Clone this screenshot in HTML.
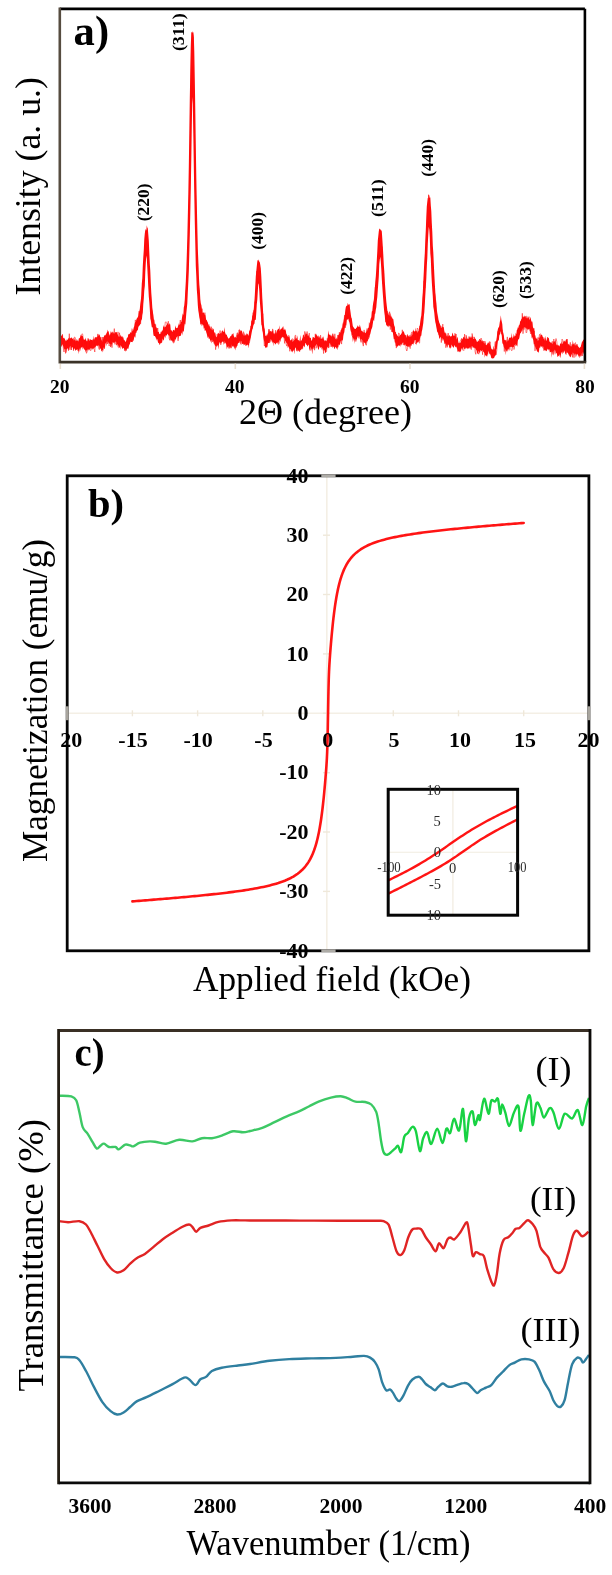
<!DOCTYPE html>
<html><head><meta charset="utf-8"><style>
html,body{margin:0;padding:0;background:#fff;}
body{width:612px;height:1575px;overflow:hidden;font-family:"Liberation Serif",serif;}
svg{display:block;filter:blur(0.5px);}
</style></head><body>
<svg width="612" height="1575" viewBox="0 0 612 1575" font-family="'Liberation Serif', serif">
<rect width="612" height="1575" fill="#fff"/>
<path d="M60.3 336.2 L60.8 336.4 L61.3 335.3 L61.8 335.9 L62.3 333.7 L62.8 336.2 L63.3 338.2 L63.8 338.1 L64.3 339.0 L64.8 337.4 L65.3 341.6 L65.8 339.8 L66.3 341.2 L66.8 339.2 L67.3 340.1 L67.8 339.4 L68.3 338.2 L68.8 338.2 L69.3 338.8 L69.8 336.9 L70.3 338.2 L70.8 338.2 L71.3 337.5 L71.8 337.4 L72.3 338.8 L72.8 338.7 L73.3 337.4 L73.8 340.5 L74.3 340.1 L74.8 338.3 L75.3 341.4 L75.8 340.3 L76.3 341.0 L76.8 338.7 L77.3 340.1 L77.8 341.1 L78.3 341.5 L78.8 338.4 L79.3 338.3 L79.8 338.0 L80.3 336.4 L80.8 334.5 L81.3 336.3 L81.8 335.5 L82.3 336.2 L82.8 335.6 L83.3 338.3 L83.8 339.8 L84.3 339.2 L84.8 340.1 L85.3 339.2 L85.8 337.5 L86.3 341.6 L86.8 340.3 L87.3 341.4 L87.8 340.1 L88.3 338.2 L88.8 339.8 L89.3 340.9 L89.8 338.8 L90.3 340.0 L90.8 339.1 L91.3 340.0 L91.8 339.9 L92.3 340.5 L92.8 339.6 L93.3 340.2 L93.8 335.6 L94.3 339.9 L94.8 337.4 L95.3 336.9 L95.8 337.4 L96.3 337.4 L96.8 337.1 L97.3 337.1 L97.8 335.4 L98.3 334.1 L98.8 336.1 L99.3 335.3 L99.8 334.1 L100.3 337.5 L100.8 337.5 L101.3 340.2 L101.8 340.7 L102.3 338.3 L102.8 341.9 L103.3 337.0 L103.8 336.9 L104.3 335.3 L104.8 335.4 L105.3 335.7 L105.8 334.7 L106.3 334.3 L106.8 332.5 L107.3 331.7 L107.8 329.4 L108.3 332.0 L108.8 332.9 L109.3 334.3 L109.8 335.8 L110.3 333.8 L110.8 330.9 L111.3 333.2 L111.8 331.7 L112.3 331.5 L112.8 333.4 L113.3 333.6 L113.8 332.2 L114.3 332.9 L114.8 334.0 L115.3 332.0 L115.8 332.2 L116.3 332.2 L116.8 332.0 L117.3 334.4 L117.8 334.5 L118.3 336.5 L118.8 336.5 L119.3 336.3 L119.8 336.9 L120.3 336.0 L120.8 334.5 L121.3 336.5 L121.8 336.8 L122.3 337.0 L122.8 337.8 L123.3 338.7 L123.8 340.0 L124.3 339.9 L124.8 340.7 L125.3 341.6 L125.8 342.0 L126.3 340.2 L126.8 338.2 L127.3 336.9 L127.8 338.3 L128.3 334.1 L128.8 335.1 L129.3 334.1 L129.8 333.7 L130.3 332.4 L130.8 332.5 L131.3 333.3 L131.8 328.2 L132.3 328.7 L132.8 331.5 L133.3 329.5 L133.8 327.3 L134.3 326.2 L134.8 323.5 L135.3 321.8 L135.8 322.2 L136.3 319.7 L136.8 318.5 L137.3 317.9 L137.8 317.0 L138.3 316.0 L138.8 312.8 L139.3 311.3 L139.8 308.9 L140.3 303.8 L140.8 300.2 L141.3 295.2 L141.8 283.4 L142.3 278.3 L142.8 265.7 L143.3 257.0 L143.8 249.9 L144.3 239.1 L144.8 233.4 L145.3 230.3 L145.8 228.9 L146.3 230.5 L146.8 225.2 L147.3 227.5 L147.8 228.5 L148.3 234.6 L148.8 240.9 L149.3 252.7 L149.8 263.7 L150.3 271.1 L150.8 283.5 L151.3 292.9 L151.8 299.6 L152.3 307.4 L152.8 311.3 L153.3 315.1 L153.8 319.6 L154.3 319.8 L154.8 324.1 L155.3 323.6 L155.8 326.6 L156.3 327.3 L156.8 328.5 L157.3 328.1 L157.8 331.8 L158.3 332.1 L158.8 331.7 L159.3 334.2 L159.8 333.8 L160.3 334.1 L160.8 331.6 L161.3 332.6 L161.8 330.7 L162.3 330.8 L162.8 330.0 L163.3 325.0 L163.8 326.8 L164.3 327.8 L164.8 326.2 L165.3 327.1 L165.8 326.4 L166.3 325.3 L166.8 325.1 L167.3 322.6 L167.8 324.1 L168.3 324.2 L168.8 325.1 L169.3 324.3 L169.8 323.0 L170.3 325.0 L170.8 330.2 L171.3 330.2 L171.8 330.5 L172.3 332.2 L172.8 330.6 L173.3 330.1 L173.8 329.8 L174.3 330.8 L174.8 329.8 L175.3 325.3 L175.8 327.5 L176.3 327.9 L176.8 328.2 L177.3 327.7 L177.8 327.5 L178.3 323.0 L178.8 326.0 L179.3 324.6 L179.8 324.5 L180.3 323.9 L180.8 322.0 L181.3 322.0 L181.8 318.9 L182.3 315.7 L182.8 313.3 L183.3 315.2 L183.8 307.5 L184.3 305.3 L184.8 299.5 L185.3 289.9 L185.8 281.5 L186.3 269.8 L186.8 254.8 L187.3 237.9 L187.8 216.5 L188.3 194.2 L188.8 167.0 L189.3 133.2 L189.8 97.9 L190.3 71.4 L190.8 45.8 L191.3 32.1 L191.8 32.4 L192.3 31.3 L192.8 33.0 L193.3 32.1 L193.8 35.7 L194.3 52.2 L194.8 79.9 L195.3 110.5 L195.8 145.9 L196.3 177.2 L196.8 204.3 L197.3 226.1 L197.8 248.5 L198.3 260.3 L198.8 274.5 L199.3 284.2 L199.8 290.0 L200.3 298.9 L200.8 303.3 L201.3 305.0 L201.8 308.5 L202.3 311.9 L202.8 313.3 L203.3 311.9 L203.8 313.1 L204.3 313.7 L204.8 314.7 L205.3 315.2 L205.8 317.9 L206.3 320.3 L206.8 319.7 L207.3 323.0 L207.8 320.7 L208.3 325.6 L208.8 325.2 L209.3 325.7 L209.8 326.4 L210.3 329.3 L210.8 326.5 L211.3 330.2 L211.8 327.7 L212.3 328.2 L212.8 330.6 L213.3 328.4 L213.8 329.5 L214.3 333.9 L214.8 332.1 L215.3 333.9 L215.8 336.1 L216.3 337.3 L216.8 336.9 L217.3 335.8 L217.8 333.3 L218.3 332.7 L218.8 333.5 L219.3 333.7 L219.8 334.0 L220.3 333.2 L220.8 333.1 L221.3 333.5 L221.8 331.5 L222.3 330.2 L222.8 330.8 L223.3 331.7 L223.8 332.0 L224.3 326.9 L224.8 331.5 L225.3 333.0 L225.8 334.5 L226.3 334.7 L226.8 334.5 L227.3 337.3 L227.8 337.2 L228.3 338.7 L228.8 338.7 L229.3 338.0 L229.8 337.5 L230.3 336.1 L230.8 336.5 L231.3 335.1 L231.8 336.1 L232.3 334.3 L232.8 333.8 L233.3 333.0 L233.8 336.1 L234.3 336.9 L234.8 337.7 L235.3 336.5 L235.8 337.6 L236.3 338.3 L236.8 335.1 L237.3 335.3 L237.8 332.0 L238.3 334.7 L238.8 333.1 L239.3 331.4 L239.8 328.6 L240.3 331.8 L240.8 330.1 L241.3 330.8 L241.8 330.4 L242.3 333.2 L242.8 334.4 L243.3 334.9 L243.8 336.0 L244.3 332.0 L244.8 335.7 L245.3 335.5 L245.8 334.2 L246.3 335.6 L246.8 332.7 L247.3 335.3 L247.8 333.2 L248.3 336.0 L248.8 334.2 L249.3 329.3 L249.8 331.6 L250.3 328.0 L250.8 326.2 L251.3 320.5 L251.8 320.8 L252.3 314.5 L252.8 316.6 L253.3 310.8 L253.8 309.4 L254.3 302.9 L254.8 295.3 L255.3 285.9 L255.8 276.2 L256.3 271.1 L256.8 266.1 L257.3 261.4 L257.8 259.8 L258.3 261.1 L258.8 259.3 L259.3 261.7 L259.8 262.3 L260.3 265.1 L260.8 268.5 L261.3 276.3 L261.8 286.6 L262.3 298.2 L262.8 306.6 L263.3 315.2 L263.8 322.9 L264.3 327.5 L264.8 329.3 L265.3 335.9 L265.8 335.8 L266.3 334.2 L266.8 336.4 L267.3 334.8 L267.8 333.3 L268.3 332.9 L268.8 329.9 L269.3 328.7 L269.8 331.8 L270.3 331.6 L270.8 331.0 L271.3 331.3 L271.8 332.4 L272.3 330.2 L272.8 330.6 L273.3 333.6 L273.8 333.5 L274.3 332.9 L274.8 334.6 L275.3 332.8 L275.8 330.8 L276.3 333.8 L276.8 331.9 L277.3 329.9 L277.8 329.4 L278.3 328.8 L278.8 328.9 L279.3 325.2 L279.8 331.1 L280.3 329.8 L280.8 328.9 L281.3 328.0 L281.8 329.2 L282.3 327.8 L282.8 326.7 L283.3 326.2 L283.8 329.9 L284.3 330.0 L284.8 328.6 L285.3 329.4 L285.8 330.7 L286.3 333.8 L286.8 334.5 L287.3 335.7 L287.8 336.7 L288.3 337.2 L288.8 336.5 L289.3 336.5 L289.8 338.7 L290.3 340.9 L290.8 341.0 L291.3 339.8 L291.8 339.1 L292.3 337.8 L292.8 342.3 L293.3 340.4 L293.8 341.2 L294.3 339.3 L294.8 340.3 L295.3 335.9 L295.8 339.3 L296.3 337.8 L296.8 339.0 L297.3 335.3 L297.8 339.9 L298.3 340.3 L298.8 339.9 L299.3 341.6 L299.8 339.3 L300.3 334.8 L300.8 341.4 L301.3 340.5 L301.8 340.1 L302.3 338.6 L302.8 337.6 L303.3 334.4 L303.8 334.8 L304.3 336.9 L304.8 336.4 L305.3 331.9 L305.8 335.0 L306.3 333.7 L306.8 333.6 L307.3 333.9 L307.8 335.9 L308.3 336.2 L308.8 334.5 L309.3 337.6 L309.8 337.5 L310.3 338.0 L310.8 337.6 L311.3 340.4 L311.8 340.8 L312.3 339.1 L312.8 336.8 L313.3 337.0 L313.8 337.4 L314.3 338.1 L314.8 337.8 L315.3 334.0 L315.8 334.7 L316.3 335.5 L316.8 333.6 L317.3 336.4 L317.8 337.2 L318.3 334.9 L318.8 338.1 L319.3 337.3 L319.8 338.3 L320.3 339.1 L320.8 336.5 L321.3 339.3 L321.8 338.5 L322.3 336.4 L322.8 339.1 L323.3 335.9 L323.8 338.9 L324.3 341.6 L324.8 339.7 L325.3 339.9 L325.8 341.1 L326.3 341.3 L326.8 340.3 L327.3 339.8 L327.8 336.3 L328.3 330.3 L328.8 334.2 L329.3 334.8 L329.8 334.6 L330.3 335.9 L330.8 334.2 L331.3 337.0 L331.8 335.3 L332.3 335.9 L332.8 334.1 L333.3 337.0 L333.8 333.3 L334.3 336.9 L334.8 337.4 L335.3 339.3 L335.8 339.1 L336.3 337.2 L336.8 339.4 L337.3 338.9 L337.8 336.9 L338.3 335.0 L338.8 334.8 L339.3 332.9 L339.8 333.5 L340.3 332.2 L340.8 330.0 L341.3 329.4 L341.8 327.6 L342.3 327.9 L342.8 324.3 L343.3 323.1 L343.8 319.7 L344.3 316.9 L344.8 314.9 L345.3 310.2 L345.8 307.3 L346.3 306.1 L346.8 305.7 L347.3 305.6 L347.8 302.7 L348.3 304.4 L348.8 305.2 L349.3 303.9 L349.8 307.0 L350.3 310.6 L350.8 314.4 L351.3 317.5 L351.8 318.5 L352.3 322.5 L352.8 326.1 L353.3 327.0 L353.8 327.6 L354.3 329.1 L354.8 328.3 L355.3 328.9 L355.8 328.9 L356.3 327.6 L356.8 328.1 L357.3 325.0 L357.8 326.8 L358.3 326.3 L358.8 327.1 L359.3 326.9 L359.8 324.4 L360.3 326.4 L360.8 328.2 L361.3 330.4 L361.8 330.9 L362.3 330.8 L362.8 331.9 L363.3 332.7 L363.8 331.6 L364.3 332.8 L364.8 332.1 L365.3 333.2 L365.8 332.8 L366.3 327.6 L366.8 332.3 L367.3 329.5 L367.8 328.1 L368.3 328.1 L368.8 327.6 L369.3 324.3 L369.8 324.0 L370.3 320.2 L370.8 318.3 L371.3 317.2 L371.8 311.6 L372.3 311.0 L372.8 305.7 L373.3 302.5 L373.8 300.1 L374.3 295.2 L374.8 288.7 L375.3 281.6 L375.8 276.6 L376.3 268.7 L376.8 260.3 L377.3 251.2 L377.8 240.6 L378.3 236.1 L378.8 231.3 L379.3 228.7 L379.8 228.8 L380.3 229.3 L380.8 230.3 L381.3 230.3 L381.8 231.4 L382.3 238.7 L382.8 246.4 L383.3 255.1 L383.8 264.7 L384.3 271.4 L384.8 281.6 L385.3 288.6 L385.8 295.5 L386.3 301.5 L386.8 306.0 L387.3 310.0 L387.8 313.3 L388.3 315.4 L388.8 311.9 L389.3 315.1 L389.8 316.0 L390.3 312.6 L390.8 316.2 L391.3 317.7 L391.8 315.2 L392.3 318.9 L392.8 318.3 L393.3 319.5 L393.8 323.5 L394.3 325.7 L394.8 327.2 L395.3 331.8 L395.8 332.3 L396.3 334.6 L396.8 334.1 L397.3 335.7 L397.8 336.0 L398.3 337.1 L398.8 335.2 L399.3 336.8 L399.8 335.7 L400.3 334.6 L400.8 334.9 L401.3 333.6 L401.8 333.5 L402.3 331.6 L402.8 331.8 L403.3 331.2 L403.8 331.5 L404.3 333.0 L404.8 334.4 L405.3 336.1 L405.8 334.9 L406.3 335.2 L406.8 337.9 L407.3 334.1 L407.8 334.6 L408.3 336.8 L408.8 335.6 L409.3 334.7 L409.8 336.9 L410.3 336.8 L410.8 334.3 L411.3 336.8 L411.8 333.5 L412.3 335.5 L412.8 330.7 L413.3 331.0 L413.8 329.3 L414.3 332.0 L414.8 330.9 L415.3 331.3 L415.8 327.6 L416.3 331.8 L416.8 330.4 L417.3 333.0 L417.8 331.0 L418.3 331.5 L418.8 330.4 L419.3 326.1 L419.8 325.5 L420.3 321.2 L420.8 318.1 L421.3 315.4 L421.8 308.5 L422.3 298.2 L422.8 292.2 L423.3 281.5 L423.8 272.1 L424.3 261.1 L424.8 253.3 L425.3 239.9 L425.8 230.0 L426.3 216.8 L426.8 206.2 L427.3 202.1 L427.8 197.7 L428.3 198.6 L428.8 193.9 L429.3 196.0 L429.8 197.9 L430.3 197.2 L430.8 205.4 L431.3 211.3 L431.8 223.6 L432.3 232.0 L432.8 245.7 L433.3 252.5 L433.8 263.6 L434.3 274.0 L434.8 283.6 L435.3 291.9 L435.8 298.3 L436.3 304.8 L436.8 309.5 L437.3 313.0 L437.8 315.8 L438.3 320.5 L438.8 320.4 L439.3 323.4 L439.8 323.4 L440.3 325.4 L440.8 327.4 L441.3 328.2 L441.8 326.1 L442.3 327.2 L442.8 326.7 L443.3 326.9 L443.8 327.4 L444.3 330.9 L444.8 332.8 L445.3 334.0 L445.8 332.0 L446.3 334.0 L446.8 336.2 L447.3 336.4 L447.8 333.9 L448.3 336.3 L448.8 336.2 L449.3 335.6 L449.8 335.3 L450.3 336.8 L450.8 336.3 L451.3 335.8 L451.8 336.8 L452.3 332.5 L452.8 333.4 L453.3 335.2 L453.8 336.1 L454.3 335.2 L454.8 336.2 L455.3 333.1 L455.8 335.9 L456.3 338.0 L456.8 339.8 L457.3 336.8 L457.8 338.0 L458.3 342.1 L458.8 343.2 L459.3 343.3 L459.8 342.3 L460.3 343.3 L460.8 341.8 L461.3 340.7 L461.8 337.8 L462.3 339.6 L462.8 338.5 L463.3 336.4 L463.8 337.5 L464.3 337.1 L464.8 338.2 L465.3 339.2 L465.8 338.1 L466.3 336.1 L466.8 339.2 L467.3 338.3 L467.8 338.9 L468.3 339.1 L468.8 335.7 L469.3 338.2 L469.8 337.1 L470.3 338.2 L470.8 336.4 L471.3 337.9 L471.8 336.4 L472.3 335.3 L472.8 337.2 L473.3 339.0 L473.8 339.0 L474.3 338.7 L474.8 337.0 L475.3 339.0 L475.8 338.7 L476.3 341.5 L476.8 342.0 L477.3 341.9 L477.8 341.7 L478.3 340.0 L478.8 341.3 L479.3 341.6 L479.8 339.3 L480.3 340.1 L480.8 339.6 L481.3 341.0 L481.8 341.4 L482.3 341.5 L482.8 339.5 L483.3 342.2 L483.8 342.9 L484.3 342.2 L484.8 343.9 L485.3 342.3 L485.8 344.9 L486.3 345.3 L486.8 344.8 L487.3 343.9 L487.8 342.6 L488.3 343.6 L488.8 342.0 L489.3 340.8 L489.8 344.0 L490.3 345.1 L490.8 346.4 L491.3 348.4 L491.8 349.3 L492.3 350.0 L492.8 348.8 L493.3 350.1 L493.8 345.5 L494.3 349.9 L494.8 347.3 L495.3 344.3 L495.8 341.1 L496.3 340.6 L496.8 337.3 L497.3 331.7 L497.8 330.6 L498.3 327.1 L498.8 327.9 L499.3 325.4 L499.8 322.0 L500.3 320.1 L500.8 315.3 L501.3 319.6 L501.8 321.7 L502.3 324.3 L502.8 331.6 L503.3 333.4 L503.8 335.6 L504.3 339.5 L504.8 340.3 L505.3 339.8 L505.8 341.3 L506.3 339.2 L506.8 342.7 L507.3 339.9 L507.8 341.4 L508.3 340.3 L508.8 339.1 L509.3 337.5 L509.8 337.7 L510.3 337.7 L510.8 337.5 L511.3 337.1 L511.8 332.8 L512.3 338.7 L512.8 337.8 L513.3 337.6 L513.8 333.6 L514.3 336.9 L514.8 335.3 L515.3 336.2 L515.8 332.6 L516.3 334.6 L516.8 330.0 L517.3 329.4 L517.8 327.2 L518.3 328.1 L518.8 325.5 L519.3 325.2 L519.8 323.7 L520.3 320.2 L520.8 321.5 L521.3 318.5 L521.8 319.6 L522.3 315.0 L522.8 317.7 L523.3 316.1 L523.8 317.5 L524.3 316.7 L524.8 315.3 L525.3 318.0 L525.8 316.5 L526.3 315.5 L526.8 318.3 L527.3 318.8 L527.8 315.9 L528.3 317.8 L528.8 318.1 L529.3 319.6 L529.8 320.0 L530.3 316.7 L530.8 318.7 L531.3 320.9 L531.8 322.0 L532.3 323.2 L532.8 326.6 L533.3 328.0 L533.8 328.6 L534.3 327.9 L534.8 335.3 L535.3 335.2 L535.8 337.9 L536.3 339.3 L536.8 337.5 L537.3 339.1 L537.8 341.2 L538.3 337.8 L538.8 340.9 L539.3 335.8 L539.8 338.1 L540.3 336.4 L540.8 332.7 L541.3 335.2 L541.8 334.6 L542.3 335.6 L542.8 337.1 L543.3 336.9 L543.8 339.3 L544.3 336.9 L544.8 340.4 L545.3 340.2 L545.8 335.5 L546.3 340.6 L546.8 340.7 L547.3 337.1 L547.8 336.9 L548.3 338.3 L548.8 337.6 L549.3 341.1 L549.8 341.9 L550.3 341.9 L550.8 343.2 L551.3 342.3 L551.8 343.2 L552.3 344.2 L552.8 343.4 L553.3 342.3 L553.8 341.0 L554.3 341.4 L554.8 341.7 L555.3 339.6 L555.8 343.0 L556.3 344.3 L556.8 345.2 L557.3 345.4 L557.8 344.4 L558.3 344.9 L558.8 345.7 L559.3 346.6 L559.8 345.2 L560.3 342.9 L560.8 343.9 L561.3 341.4 L561.8 344.5 L562.3 343.3 L562.8 344.0 L563.3 341.4 L563.8 341.3 L564.3 340.4 L564.8 341.5 L565.3 341.7 L565.8 339.9 L566.3 338.9 L566.8 339.2 L567.3 341.4 L567.8 344.2 L568.3 344.5 L568.8 343.5 L569.3 345.9 L569.8 344.0 L570.3 345.9 L570.8 346.3 L571.3 346.6 L571.8 343.8 L572.3 344.8 L572.8 339.9 L573.3 343.2 L573.8 344.5 L574.3 343.3 L574.8 345.4 L575.3 344.6 L575.8 345.8 L576.3 345.6 L576.8 344.6 L577.3 345.6 L577.8 345.7 L578.3 347.4 L578.8 346.3 L579.3 347.7 L579.8 348.3 L580.3 346.9 L580.8 346.8 L581.3 344.5 L581.8 342.5 L582.3 341.5 L582.8 341.1 L583.3 339.3 L583.8 340.0 L584.3 340.6 L584.3 350.3 L583.8 352.2 L583.3 353.7 L582.8 353.9 L582.3 352.1 L581.8 353.6 L581.3 356.7 L580.8 354.6 L580.3 357.2 L579.8 355.6 L579.3 358.2 L578.8 356.7 L578.3 355.4 L577.8 355.0 L577.3 353.8 L576.8 354.3 L576.3 356.1 L575.8 357.4 L575.3 353.7 L574.8 353.5 L574.3 355.4 L573.8 353.2 L573.3 353.0 L572.8 352.5 L572.3 355.7 L571.8 354.1 L571.3 355.0 L570.8 357.6 L570.3 356.7 L569.8 356.4 L569.3 356.0 L568.8 353.2 L568.3 355.5 L567.8 352.6 L567.3 353.1 L566.8 350.9 L566.3 355.0 L565.8 354.4 L565.3 353.7 L564.8 351.8 L564.3 350.2 L563.8 352.0 L563.3 351.4 L562.8 351.6 L562.3 354.4 L561.8 352.4 L561.3 352.1 L560.8 355.2 L560.3 357.9 L559.8 356.4 L559.3 353.9 L558.8 356.5 L558.3 355.5 L557.8 357.2 L557.3 356.0 L556.8 353.2 L556.3 352.8 L555.8 354.8 L555.3 351.1 L554.8 349.4 L554.3 353.4 L553.8 355.7 L553.3 350.8 L552.8 351.8 L552.3 352.8 L551.8 357.7 L551.3 351.5 L550.8 352.2 L550.3 352.0 L549.8 352.4 L549.3 349.6 L548.8 348.9 L548.3 350.8 L547.8 348.5 L547.3 349.6 L546.8 350.5 L546.3 350.8 L545.8 351.1 L545.3 350.0 L544.8 349.9 L544.3 350.0 L543.8 349.1 L543.3 346.2 L542.8 348.4 L542.3 346.1 L541.8 347.0 L541.3 346.5 L540.8 345.4 L540.3 347.4 L539.8 347.5 L539.3 348.2 L538.8 353.3 L538.3 351.7 L537.8 351.8 L537.3 351.8 L536.8 350.8 L536.3 349.2 L535.8 348.3 L535.3 346.6 L534.8 346.4 L534.3 344.0 L533.8 344.4 L533.3 340.4 L532.8 338.1 L532.3 336.8 L531.8 338.5 L531.3 334.7 L530.8 332.1 L530.3 331.4 L529.8 331.2 L529.3 328.7 L528.8 329.1 L528.3 330.1 L527.8 328.6 L527.3 330.5 L526.8 329.1 L526.3 328.5 L525.8 327.4 L525.3 327.7 L524.8 330.5 L524.3 327.0 L523.8 327.6 L523.3 330.6 L522.8 328.2 L522.3 331.0 L521.8 329.9 L521.3 331.4 L520.8 333.6 L520.3 332.7 L519.8 335.3 L519.3 338.3 L518.8 338.9 L518.3 339.6 L517.8 341.0 L517.3 346.7 L516.8 345.5 L516.3 345.6 L515.8 343.8 L515.3 346.3 L514.8 345.3 L514.3 344.8 L513.8 347.2 L513.3 346.7 L512.8 347.3 L512.3 347.6 L511.8 346.9 L511.3 346.8 L510.8 346.8 L510.3 346.9 L509.8 347.1 L509.3 350.5 L508.8 350.6 L508.3 348.4 L507.8 349.6 L507.3 351.6 L506.8 351.6 L506.3 350.3 L505.8 355.2 L505.3 349.7 L504.8 348.6 L504.3 348.0 L503.8 346.7 L503.3 344.4 L502.8 343.9 L502.3 342.8 L501.8 335.8 L501.3 334.0 L500.8 331.1 L500.3 332.7 L499.8 334.6 L499.3 335.6 L498.8 340.7 L498.3 340.3 L497.8 341.4 L497.3 344.2 L496.8 348.8 L496.3 349.3 L495.8 356.3 L495.3 355.0 L494.8 356.3 L494.3 357.5 L493.8 358.2 L493.3 358.2 L492.8 358.2 L492.3 358.2 L491.8 358.2 L491.3 358.1 L490.8 355.9 L490.3 353.9 L489.8 353.5 L489.3 354.5 L488.8 350.5 L488.3 352.4 L487.8 357.0 L487.3 353.3 L486.8 356.7 L486.3 355.7 L485.8 355.5 L485.3 355.1 L484.8 357.8 L484.3 353.3 L483.8 352.0 L483.3 352.0 L482.8 349.8 L482.3 350.2 L481.8 351.2 L481.3 350.9 L480.8 349.8 L480.3 351.6 L479.8 353.4 L479.3 352.2 L478.8 350.8 L478.3 351.6 L477.8 353.4 L477.3 354.0 L476.8 350.5 L476.3 350.3 L475.8 348.9 L475.3 348.2 L474.8 348.3 L474.3 347.4 L473.8 348.2 L473.3 346.9 L472.8 348.1 L472.3 345.8 L471.8 348.2 L471.3 345.8 L470.8 347.1 L470.3 348.7 L469.8 348.7 L469.3 347.2 L468.8 348.0 L468.3 348.7 L467.8 349.2 L467.3 348.3 L466.8 347.4 L466.3 348.8 L465.8 347.5 L465.3 349.3 L464.8 349.1 L464.3 349.3 L463.8 346.7 L463.3 347.7 L462.8 349.2 L462.3 348.4 L461.8 348.3 L461.3 349.0 L460.8 352.5 L460.3 351.1 L459.8 351.5 L459.3 351.1 L458.8 351.1 L458.3 351.6 L457.8 350.4 L457.3 349.1 L456.8 348.3 L456.3 346.6 L455.8 347.3 L455.3 347.0 L454.8 344.8 L454.3 345.7 L453.8 347.6 L453.3 347.8 L452.8 346.5 L452.3 346.5 L451.8 344.4 L451.3 345.1 L450.8 347.7 L450.3 347.4 L449.8 347.6 L449.3 347.9 L448.8 345.1 L448.3 344.6 L447.8 346.3 L447.3 344.1 L446.8 346.6 L446.3 345.0 L445.8 343.6 L445.3 343.6 L444.8 344.3 L444.3 343.2 L443.8 339.8 L443.3 339.4 L442.8 338.0 L442.3 340.9 L441.8 339.8 L441.3 338.2 L440.8 337.4 L440.3 336.8 L439.8 338.2 L439.3 339.1 L438.8 335.4 L438.3 334.4 L437.8 331.5 L437.3 332.9 L436.8 329.4 L436.3 327.0 L435.8 324.0 L435.3 322.1 L434.8 318.2 L434.3 312.9 L433.8 309.6 L433.3 306.7 L432.8 296.6 L432.3 289.7 L431.8 282.1 L431.3 272.2 L430.8 258.8 L430.3 253.2 L429.8 237.6 L429.3 229.7 L428.8 226.7 L428.3 234.6 L427.8 243.6 L427.3 258.2 L426.8 265.7 L426.3 278.7 L425.8 287.2 L425.3 295.5 L424.8 304.7 L424.3 312.3 L423.8 316.2 L423.3 323.1 L422.8 326.3 L422.3 329.6 L421.8 331.4 L421.3 335.8 L420.8 335.7 L420.3 337.0 L419.8 339.3 L419.3 341.3 L418.8 341.4 L418.3 341.5 L417.8 342.6 L417.3 342.6 L416.8 342.7 L416.3 345.6 L415.8 340.5 L415.3 339.9 L414.8 339.9 L414.3 341.0 L413.8 345.6 L413.3 342.3 L412.8 343.8 L412.3 344.3 L411.8 344.3 L411.3 346.2 L410.8 345.0 L410.3 349.2 L409.8 348.6 L409.3 345.6 L408.8 346.1 L408.3 346.9 L407.8 346.3 L407.3 347.1 L406.8 346.1 L406.3 345.9 L405.8 345.5 L405.3 344.3 L404.8 344.6 L404.3 345.7 L403.8 345.0 L403.3 342.3 L402.8 342.9 L402.3 342.6 L401.8 345.8 L401.3 343.3 L400.8 347.3 L400.3 343.9 L399.8 345.5 L399.3 346.1 L398.8 345.3 L398.3 345.4 L397.8 346.9 L397.3 346.0 L396.8 347.2 L396.3 345.4 L395.8 346.2 L395.3 342.5 L394.8 342.6 L394.3 338.7 L393.8 339.2 L393.3 335.8 L392.8 332.2 L392.3 332.2 L391.8 330.5 L391.3 327.3 L390.8 326.7 L390.3 325.9 L389.8 326.4 L389.3 325.4 L388.8 325.6 L388.3 327.6 L387.8 325.6 L387.3 327.0 L386.8 325.1 L386.3 325.7 L385.8 322.1 L385.3 322.6 L384.8 315.8 L384.3 312.3 L383.8 307.3 L383.3 300.3 L382.8 293.7 L382.3 286.6 L381.8 278.9 L381.3 269.2 L380.8 261.6 L380.3 256.8 L379.8 259.4 L379.3 264.1 L378.8 275.8 L378.3 283.3 L377.8 290.0 L377.3 297.0 L376.8 301.3 L376.3 307.3 L375.8 309.8 L375.3 313.4 L374.8 313.9 L374.3 318.3 L373.8 319.8 L373.3 320.3 L372.8 323.8 L372.3 326.9 L371.8 328.5 L371.3 329.4 L370.8 331.8 L370.3 334.0 L369.8 334.9 L369.3 337.9 L368.8 337.1 L368.3 338.4 L367.8 341.6 L367.3 340.5 L366.8 343.8 L366.3 341.1 L365.8 345.2 L365.3 343.1 L364.8 343.1 L364.3 342.7 L363.8 341.5 L363.3 342.1 L362.8 344.9 L362.3 340.3 L361.8 339.4 L361.3 338.9 L360.8 338.7 L360.3 341.9 L359.8 337.6 L359.3 335.9 L358.8 337.4 L358.3 336.0 L357.8 336.7 L357.3 336.0 L356.8 340.7 L356.3 338.9 L355.8 338.8 L355.3 340.4 L354.8 338.9 L354.3 344.0 L353.8 337.7 L353.3 339.9 L352.8 342.1 L352.3 334.9 L351.8 335.4 L351.3 331.9 L350.8 331.6 L350.3 329.3 L349.8 324.2 L349.3 321.9 L348.8 321.1 L348.3 318.4 L347.8 320.1 L347.3 319.2 L346.8 319.8 L346.3 325.7 L345.8 324.7 L345.3 326.5 L344.8 327.9 L344.3 332.3 L343.8 333.5 L343.3 335.9 L342.8 341.6 L342.3 339.8 L341.8 340.1 L341.3 341.1 L340.8 340.9 L340.3 343.2 L339.8 344.6 L339.3 345.5 L338.8 344.3 L338.3 347.4 L337.8 347.2 L337.3 349.9 L336.8 348.8 L336.3 348.1 L335.8 346.8 L335.3 347.3 L334.8 348.7 L334.3 348.9 L333.8 346.8 L333.3 346.4 L332.8 348.0 L332.3 346.7 L331.8 345.2 L331.3 347.2 L330.8 345.1 L330.3 343.7 L329.8 343.1 L329.3 343.8 L328.8 346.8 L328.3 348.4 L327.8 346.5 L327.3 347.4 L326.8 348.7 L326.3 349.9 L325.8 353.0 L325.3 352.9 L324.8 350.7 L324.3 350.0 L323.8 349.3 L323.3 351.2 L322.8 350.0 L322.3 347.4 L321.8 350.0 L321.3 346.8 L320.8 347.5 L320.3 348.1 L319.8 345.9 L319.3 347.3 L318.8 349.6 L318.3 349.8 L317.8 348.0 L317.3 346.1 L316.8 343.8 L316.3 344.8 L315.8 346.6 L315.3 344.7 L314.8 347.2 L314.3 348.7 L313.8 347.0 L313.3 349.5 L312.8 348.4 L312.3 354.6 L311.8 350.8 L311.3 349.0 L310.8 347.6 L310.3 346.8 L309.8 349.0 L309.3 350.3 L308.8 345.2 L308.3 344.5 L307.8 346.6 L307.3 346.1 L306.8 344.4 L306.3 345.3 L305.8 342.8 L305.3 343.5 L304.8 346.2 L304.3 347.6 L303.8 346.1 L303.3 345.5 L302.8 349.4 L302.3 347.6 L301.8 348.7 L301.3 349.6 L300.8 350.6 L300.3 349.8 L299.8 350.8 L299.3 350.8 L298.8 351.2 L298.3 350.3 L297.8 351.2 L297.3 348.9 L296.8 351.4 L296.3 350.0 L295.8 347.8 L295.3 347.6 L294.8 349.8 L294.3 354.6 L293.8 349.4 L293.3 351.0 L292.8 351.0 L292.3 352.6 L291.8 351.7 L291.3 350.9 L290.8 349.0 L290.3 349.4 L289.8 348.4 L289.3 348.9 L288.8 345.9 L288.3 347.5 L287.8 348.0 L287.3 343.9 L286.8 342.7 L286.3 342.9 L285.8 340.9 L285.3 341.4 L284.8 339.0 L284.3 338.0 L283.8 338.2 L283.3 337.1 L282.8 336.7 L282.3 337.0 L281.8 337.2 L281.3 337.6 L280.8 339.0 L280.3 342.0 L279.8 340.4 L279.3 339.9 L278.8 342.2 L278.3 343.1 L277.8 343.7 L277.3 342.0 L276.8 343.4 L276.3 342.6 L275.8 344.4 L275.3 344.2 L274.8 343.0 L274.3 342.9 L273.8 346.3 L273.3 341.7 L272.8 343.6 L272.3 341.5 L271.8 341.8 L271.3 340.1 L270.8 338.9 L270.3 342.6 L269.8 340.6 L269.3 342.8 L268.8 343.1 L268.3 342.9 L267.8 343.5 L267.3 347.2 L266.8 347.5 L266.3 347.3 L265.8 348.3 L265.3 347.2 L264.8 346.3 L264.3 342.0 L263.8 339.7 L263.3 336.7 L262.8 332.4 L262.3 330.5 L261.8 325.8 L261.3 324.5 L260.8 312.9 L260.3 307.3 L259.8 301.1 L259.3 291.1 L258.8 284.8 L258.3 283.2 L257.8 291.4 L257.3 299.7 L256.8 303.9 L256.3 312.4 L255.8 319.6 L255.3 319.9 L254.8 319.9 L254.3 323.5 L253.8 324.5 L253.3 325.8 L252.8 328.6 L252.3 329.5 L251.8 332.1 L251.3 334.8 L250.8 337.6 L250.3 338.7 L249.8 340.7 L249.3 342.7 L248.8 348.5 L248.3 345.3 L247.8 344.4 L247.3 345.3 L246.8 345.4 L246.3 345.2 L245.8 345.4 L245.3 343.7 L244.8 344.2 L244.3 344.6 L243.8 345.6 L243.3 343.5 L242.8 344.1 L242.3 344.0 L241.8 343.2 L241.3 341.0 L240.8 340.8 L240.3 344.3 L239.8 340.7 L239.3 342.9 L238.8 342.7 L238.3 343.0 L237.8 343.7 L237.3 346.1 L236.8 346.3 L236.3 348.3 L235.8 346.0 L235.3 350.5 L234.8 348.7 L234.3 347.3 L233.8 345.4 L233.3 347.4 L232.8 346.0 L232.3 347.1 L231.8 344.2 L231.3 347.0 L230.8 346.4 L230.3 348.6 L229.8 347.7 L229.3 346.5 L228.8 349.0 L228.3 346.1 L227.8 346.7 L227.3 347.6 L226.8 349.6 L226.3 345.2 L225.8 342.3 L225.3 343.9 L224.8 340.9 L224.3 341.8 L223.8 345.3 L223.3 341.4 L222.8 340.9 L222.3 342.0 L221.8 342.0 L221.3 343.3 L220.8 343.5 L220.3 343.0 L219.8 342.1 L219.3 343.3 L218.8 345.3 L218.3 349.6 L217.8 345.1 L217.3 345.7 L216.8 347.2 L216.3 345.7 L215.8 345.7 L215.3 346.1 L214.8 345.2 L214.3 344.0 L213.8 341.6 L213.3 340.8 L212.8 341.7 L212.3 339.8 L211.8 339.7 L211.3 343.5 L210.8 341.8 L210.3 340.4 L209.8 339.1 L209.3 338.3 L208.8 339.0 L208.3 336.3 L207.8 338.3 L207.3 336.2 L206.8 334.1 L206.3 332.6 L205.8 330.2 L205.3 330.5 L204.8 331.1 L204.3 327.6 L203.8 329.0 L203.3 325.1 L202.8 325.8 L202.3 323.8 L201.8 326.6 L201.3 323.5 L200.8 324.6 L200.3 324.4 L199.8 319.6 L199.3 317.3 L198.8 313.5 L198.3 310.6 L197.8 305.1 L197.3 296.0 L196.8 289.5 L196.3 276.3 L195.8 266.3 L195.3 244.3 L194.8 222.5 L194.3 196.0 L193.8 166.0 L193.3 133.1 L192.8 103.7 L192.3 97.0 L191.8 125.3 L191.3 158.8 L190.8 187.4 L190.3 212.6 L189.8 234.8 L189.3 253.9 L188.8 271.4 L188.3 282.6 L187.8 292.5 L187.3 303.5 L186.8 308.6 L186.3 313.2 L185.8 319.5 L185.3 324.7 L184.8 323.6 L184.3 326.5 L183.8 331.8 L183.3 331.5 L182.8 330.6 L182.3 335.5 L181.8 332.2 L181.3 333.7 L180.8 336.2 L180.3 335.5 L179.8 336.3 L179.3 336.2 L178.8 335.7 L178.3 339.5 L177.8 336.4 L177.3 336.0 L176.8 336.9 L176.3 337.8 L175.8 339.6 L175.3 339.3 L174.8 342.6 L174.3 339.1 L173.8 342.5 L173.3 341.4 L172.8 340.6 L172.3 343.1 L171.8 340.2 L171.3 340.8 L170.8 340.0 L170.3 338.2 L169.8 341.0 L169.3 335.8 L168.8 335.4 L168.3 335.2 L167.8 333.8 L167.3 334.3 L166.8 335.2 L166.3 335.7 L165.8 335.0 L165.3 338.4 L164.8 336.1 L164.3 337.2 L163.8 340.4 L163.3 340.2 L162.8 338.2 L162.3 340.4 L161.8 343.6 L161.3 341.7 L160.8 343.3 L160.3 343.4 L159.8 345.3 L159.3 344.0 L158.8 342.7 L158.3 343.2 L157.8 341.4 L157.3 339.3 L156.8 338.3 L156.3 340.7 L155.8 337.7 L155.3 336.8 L154.8 335.9 L154.3 336.1 L153.8 336.1 L153.3 333.9 L152.8 328.3 L152.3 327.1 L151.8 327.3 L151.3 323.9 L150.8 320.6 L150.3 318.4 L149.8 308.9 L149.3 302.0 L148.8 296.5 L148.3 287.2 L147.8 277.0 L147.3 267.5 L146.8 258.6 L146.3 255.4 L145.8 262.8 L145.3 272.1 L144.8 285.8 L144.3 289.8 L143.8 298.8 L143.3 304.0 L142.8 312.8 L142.3 315.2 L141.8 320.8 L141.3 319.1 L140.8 321.9 L140.3 323.5 L139.8 325.7 L139.3 325.3 L138.8 326.2 L138.3 327.3 L137.8 330.5 L137.3 330.3 L136.8 331.0 L136.3 333.1 L135.8 332.7 L135.3 338.0 L134.8 336.2 L134.3 336.8 L133.8 339.5 L133.3 341.3 L132.8 340.0 L132.3 342.2 L131.8 342.1 L131.3 342.0 L130.8 341.4 L130.3 342.2 L129.8 344.2 L129.3 344.8 L128.8 346.8 L128.3 348.9 L127.8 348.2 L127.3 348.7 L126.8 349.6 L126.3 349.6 L125.8 352.0 L125.3 349.6 L124.8 349.8 L124.3 349.7 L123.8 347.8 L123.3 348.3 L122.8 348.4 L122.3 349.1 L121.8 346.2 L121.3 346.7 L120.8 349.7 L120.3 344.8 L119.8 347.6 L119.3 348.3 L118.8 345.1 L118.3 348.5 L117.8 346.9 L117.3 343.9 L116.8 345.0 L116.3 342.3 L115.8 341.8 L115.3 341.4 L114.8 341.9 L114.3 343.3 L113.8 342.8 L113.3 342.8 L112.8 341.7 L112.3 343.7 L111.8 346.5 L111.3 344.1 L110.8 344.0 L110.3 347.4 L109.8 344.2 L109.3 343.5 L108.8 343.4 L108.3 342.2 L107.8 341.4 L107.3 341.4 L106.8 341.7 L106.3 346.5 L105.8 342.8 L105.3 344.0 L104.8 349.1 L104.3 347.3 L103.8 347.6 L103.3 350.3 L102.8 352.4 L102.3 349.8 L101.8 351.2 L101.3 351.3 L100.8 348.1 L100.3 349.0 L99.8 349.5 L99.3 345.7 L98.8 346.0 L98.3 345.1 L97.8 345.4 L97.3 346.5 L96.8 345.8 L96.3 345.4 L95.8 346.5 L95.3 346.9 L94.8 348.3 L94.3 347.2 L93.8 348.0 L93.3 349.3 L92.8 348.3 L92.3 350.1 L91.8 348.1 L91.3 348.8 L90.8 347.8 L90.3 349.3 L89.8 348.7 L89.3 350.4 L88.8 349.0 L88.3 350.8 L87.8 349.4 L87.3 349.4 L86.8 352.1 L86.3 350.0 L85.8 349.9 L85.3 352.4 L84.8 348.9 L84.3 350.3 L83.8 347.8 L83.3 347.5 L82.8 349.7 L82.3 346.4 L81.8 347.9 L81.3 347.1 L80.8 347.7 L80.3 350.2 L79.8 352.1 L79.3 347.6 L78.8 354.2 L78.3 350.4 L77.8 351.2 L77.3 349.1 L76.8 349.9 L76.3 349.6 L75.8 350.5 L75.3 350.8 L74.8 348.5 L74.3 348.6 L73.8 351.3 L73.3 350.5 L72.8 347.0 L72.3 347.6 L71.8 347.2 L71.3 349.0 L70.8 346.2 L70.3 345.8 L69.8 346.8 L69.3 348.3 L68.8 348.9 L68.3 350.6 L67.8 348.3 L67.3 348.4 L66.8 349.1 L66.3 352.7 L65.8 352.4 L65.3 348.8 L64.8 349.8 L64.3 348.7 L63.8 348.5 L63.3 346.4 L62.8 345.4 L62.3 343.8 L61.8 345.7 L61.3 347.3 L60.8 344.3 L60.3 344.6Z" fill="#ff0a0a" stroke="none"/>
<path d="M60.3 339.7 L61.0 338.2 L61.8 344.9 L62.5 334.5 L63.3 347.9 L64.0 352.0 L64.8 341.2 L65.5 353.4 L66.3 347.2 L67.0 347.1 L67.8 346.3 L68.5 350.7 L69.3 333.7 L70.0 349.9 L70.8 343.7 L71.5 350.0 L72.3 341.4 L73.0 346.0 L73.8 340.1 L74.5 337.0 L75.3 337.6 L76.0 348.0 L76.8 344.8 L77.5 341.4 L78.3 343.5 L79.0 348.8 L79.8 348.7 L80.5 346.9 L81.3 336.1 L82.0 333.7 L82.8 334.4 L83.5 346.5 L84.3 349.0 L85.0 344.4 L85.8 349.4 L86.5 353.3 L87.3 351.2 L88.0 338.4 L88.8 347.5 L89.5 347.3 L90.3 350.4 L91.0 350.5 L91.8 346.8 L92.5 346.7 L93.3 338.9 L94.0 348.6 L94.8 352.0 L95.5 340.2 L96.3 340.6 L97.0 339.4 L97.8 333.9 L98.5 347.6 L99.3 349.6 L100.0 339.5 L100.8 337.1 L101.5 342.9 L102.3 337.0 L103.0 343.6 L103.8 342.9 L104.5 348.7 L105.3 335.3 L106.0 335.4 L106.8 333.6 L107.5 343.9 L108.3 331.5 L109.0 345.8 L109.8 344.7 L110.5 346.9 L111.3 340.6 L112.0 347.7 L112.8 332.3 L113.5 339.8 L114.3 328.6 L115.0 344.4 L115.8 332.9 L116.5 345.2 L117.3 339.1 L118.0 331.9 L118.8 343.3 L119.5 332.8 L120.3 343.8 L121.0 340.4 L121.8 341.5 L122.5 336.6 L123.3 338.0 L124.0 341.9 L124.8 351.0 L125.5 346.8 L126.3 350.6 L127.0 341.9 L127.8 342.3 L128.6 334.5 L129.3 334.7 L130.1 334.7 L130.8 332.6 L131.6 332.8 L132.3 341.8 L133.1 335.9 L133.8 337.2 L134.6 332.5 L135.3 319.9 L136.1 323.4 L136.8 327.4 L137.6 325.8 L138.3 320.3 L139.1 311.1 L139.8 317.9 L140.6 324.1 L141.3 311.9 L142.1 293.2 L142.8 281.5 L143.6 290.2 L144.3 266.5 L145.1 250.2 L145.8 231.3 L146.6 252.5 L147.3 231.2 L148.1 258.8 L148.8 274.9 L149.6 288.1 L150.3 297.9 L151.1 314.2 L151.8 310.3 L152.6 314.5 L153.3 323.5 L154.1 331.9 L154.8 326.2 L155.6 324.6 L156.3 331.7 L157.1 330.0 L157.8 328.0 L158.6 340.5 L159.3 337.1 L160.1 342.2 L160.8 340.8 L161.6 342.9 L162.3 336.1 L163.1 338.1 L163.8 330.7 L164.6 329.3 L165.3 322.0 L166.1 321.9 L166.8 322.5 L167.6 330.6 L168.3 321.2 L169.1 338.3 L169.8 340.1 L170.6 340.2 L171.3 332.8 L172.1 338.5 L172.8 332.9 L173.6 343.2 L174.3 341.9 L175.1 337.5 L175.8 332.2 L176.6 329.7 L177.3 333.6 L178.1 340.9 L178.8 328.6 L179.6 324.6 L180.3 320.0 L181.1 325.4 L181.8 332.3 L182.6 327.4 L183.3 316.8 L184.1 321.2 L184.8 317.5 L185.6 298.4 L186.3 289.9 L187.1 288.7 L187.8 257.9 L188.6 234.5 L189.3 200.7 L190.1 176.0 L190.8 96.7 L191.6 39.2 L192.3 66.7 L193.1 36.9 L193.8 106.7 L194.6 142.4 L195.3 187.9 L196.1 209.3 L196.8 254.0 L197.6 264.3 L198.3 283.1 L199.1 297.8 L199.8 311.3 L200.6 305.0 L201.3 315.0 L202.1 308.7 L202.8 319.7 L203.6 317.4 L204.3 313.2 L205.1 312.7 L205.8 324.1 L206.6 324.6 L207.3 332.0 L208.1 330.7 L208.8 324.3 L209.6 335.4 L210.3 338.7 L211.1 326.6 L211.8 328.4 L212.6 341.9 L213.3 340.6 L214.1 343.5 L214.8 332.7 L215.6 349.7 L216.3 343.7 L217.1 334.2 L217.8 335.8 L218.6 342.0 L219.3 340.2 L220.1 330.5 L220.8 344.9 L221.6 334.4 L222.3 331.3 L223.1 342.0 L223.8 336.1 L224.6 343.4 L225.3 338.4 L226.1 339.1 L226.8 336.3 L227.6 339.8 L228.3 338.6 L229.1 348.5 L229.8 347.9 L230.6 338.5 L231.3 348.2 L232.1 334.4 L232.8 337.7 L233.6 340.3 L234.3 340.4 L235.1 348.2 L235.8 344.8 L236.6 334.7 L237.3 332.8 L238.1 339.8 L238.8 330.0 L239.6 330.0 L240.3 342.6 L241.1 344.5 L241.8 333.1 L242.6 341.5 L243.3 331.6 L244.1 343.7 L244.8 344.7 L245.6 345.5 L246.3 335.6 L247.1 334.0 L247.8 342.0 L248.6 343.6 L249.3 343.1 L250.1 339.3 L250.8 325.9 L251.6 328.2 L252.3 319.5 L253.1 312.6 L253.8 323.8 L254.6 302.0 L255.3 301.2 L256.1 295.3 L256.8 271.1 L257.6 278.0 L258.3 265.1 L259.1 276.1 L259.8 273.3 L260.6 289.0 L261.3 288.8 L262.1 321.6 L262.8 313.7 L263.6 333.2 L264.3 346.0 L265.1 344.5 L265.8 338.7 L266.6 346.9 L267.3 343.8 L268.1 341.8 L268.8 329.1 L269.6 342.8 L270.3 331.6 L271.1 331.4 L271.8 335.4 L272.6 328.9 L273.3 330.9 L274.1 340.2 L274.8 336.0 L275.6 330.2 L276.3 332.1 L277.1 341.3 L277.8 342.0 L278.6 344.4 L279.3 342.9 L280.1 338.7 L280.8 329.9 L281.6 338.3 L282.3 335.8 L283.1 335.4 L283.8 334.3 L284.6 343.4 L285.3 331.2 L286.1 344.0 L286.8 346.1 L287.6 339.7 L288.3 335.7 L289.1 335.6 L289.8 351.3 L290.6 340.1 L291.3 349.9 L292.1 350.4 L292.8 346.4 L293.6 339.4 L294.3 339.8 L295.1 335.4 L295.8 335.3 L296.6 350.3 L297.3 351.3 L298.1 343.9 L298.8 343.5 L299.6 351.8 L300.3 342.1 L301.1 344.0 L301.8 348.6 L302.6 348.8 L303.3 335.6 L304.1 340.7 L304.8 331.4 L305.6 337.5 L306.3 336.9 L307.1 331.5 L307.8 337.6 L308.6 336.6 L309.3 333.1 L310.1 350.6 L310.8 344.1 L311.6 343.4 L312.3 343.5 L313.1 345.4 L313.8 341.0 L314.6 350.2 L315.3 333.8 L316.1 348.3 L316.8 345.9 L317.6 336.3 L318.3 342.2 L319.1 336.6 L319.8 339.0 L320.6 335.2 L321.3 342.4 L322.1 339.5 L322.8 343.2 L323.6 353.6 L324.3 346.9 L325.1 343.4 L325.8 351.3 L326.6 351.7 L327.3 338.3 L328.1 347.1 L328.8 347.9 L329.6 345.8 L330.3 341.7 L331.1 347.0 L331.8 338.5 L332.6 333.7 L333.3 344.8 L334.1 343.6 L334.8 333.8 L335.6 340.1 L336.3 342.0 L337.1 342.7 L337.8 335.0 L338.6 342.8 L339.3 332.1 L340.1 333.6 L340.8 337.4 L341.6 344.1 L342.3 329.4 L343.1 322.7 L343.8 323.2 L344.6 315.1 L345.3 327.9 L346.1 312.9 L346.8 315.3 L347.6 306.6 L348.3 312.7 L349.1 304.5 L349.8 315.6 L350.6 323.1 L351.3 326.7 L352.1 335.5 L352.8 337.3 L353.6 331.0 L354.3 336.0 L355.1 329.5 L355.8 341.5 L356.6 330.7 L357.3 335.4 L358.1 337.6 L358.8 338.3 L359.6 331.7 L360.3 338.0 L361.1 342.4 L361.8 338.1 L362.6 331.9 L363.3 346.1 L364.1 329.9 L364.8 335.3 L365.6 343.4 L366.3 345.3 L367.1 340.1 L367.8 336.0 L368.6 339.2 L369.3 322.7 L370.1 324.2 L370.8 322.3 L371.6 320.4 L372.3 320.9 L373.1 317.0 L373.8 320.5 L374.6 296.8 L375.3 287.2 L376.1 297.5 L376.8 278.9 L377.6 281.8 L378.3 262.8 L379.1 250.0 L379.8 254.6 L380.6 239.5 L381.3 248.7 L382.1 246.8 L382.8 283.6 L383.6 273.7 L384.3 296.8 L385.1 306.7 L385.8 314.4 L386.6 321.7 L387.3 311.2 L388.1 317.3 L388.8 320.6 L389.6 311.7 L390.3 329.6 L391.1 319.0 L391.8 332.0 L392.6 319.3 L393.3 331.4 L394.1 326.7 L394.8 334.9 L395.6 332.2 L396.3 348.1 L397.1 340.1 L397.8 337.5 L398.6 333.0 L399.3 333.4 L400.1 344.1 L400.8 337.5 L401.6 344.1 L402.3 329.8 L403.1 344.9 L403.8 344.6 L404.6 338.9 L405.3 334.9 L406.1 348.8 L406.8 351.0 L407.6 347.8 L408.3 345.1 L409.1 346.7 L409.8 346.2 L410.6 340.4 L411.3 333.1 L412.1 331.9 L412.8 344.0 L413.6 335.8 L414.3 337.0 L415.1 342.4 L415.8 344.1 L416.6 334.7 L417.3 328.0 L418.1 329.0 L418.8 342.4 L419.6 343.1 L420.3 329.1 L421.1 324.5 L421.8 318.7 L422.6 320.2 L423.3 309.9 L424.1 280.9 L424.8 288.0 L425.6 270.9 L426.3 256.0 L427.1 224.2 L427.8 215.9 L428.6 194.9 L429.3 227.4 L430.1 225.9 L430.8 223.8 L431.6 245.7 L432.3 257.4 L433.1 280.0 L433.8 293.4 L434.6 293.2 L435.3 297.6 L436.1 304.2 L436.8 320.6 L437.6 316.7 L438.3 320.8 L439.1 323.7 L439.8 328.2 L440.6 325.7 L441.3 342.6 L442.1 330.8 L442.8 324.1 L443.6 338.6 L444.3 341.2 L445.1 333.3 L445.8 347.7 L446.6 338.1 L447.3 347.3 L448.1 333.0 L448.8 336.1 L449.6 338.5 L450.3 348.3 L451.1 347.0 L451.8 339.9 L452.6 342.5 L453.3 342.9 L454.1 345.4 L454.8 333.4 L455.6 335.4 L456.3 334.2 L457.1 343.0 L457.8 351.6 L458.6 344.5 L459.3 352.1 L460.1 341.3 L460.8 340.2 L461.6 338.6 L462.3 349.9 L463.1 349.9 L463.8 350.6 L464.6 334.1 L465.3 347.1 L466.1 335.2 L466.8 338.0 L467.6 340.8 L468.3 347.5 L469.1 346.2 L469.8 336.5 L470.6 346.0 L471.3 349.6 L472.1 333.5 L472.8 337.0 L473.6 338.4 L474.3 336.9 L475.1 351.8 L475.8 354.3 L476.6 340.6 L477.3 342.5 L478.1 352.6 L478.8 354.2 L479.6 339.0 L480.3 348.6 L481.1 338.0 L481.8 347.3 L482.6 354.7 L483.3 341.0 L484.1 351.0 L484.8 341.0 L485.6 343.7 L486.3 348.2 L487.1 353.7 L487.8 352.0 L488.6 343.9 L489.3 347.0 L490.1 341.8 L490.8 354.6 L491.6 351.1 L492.3 358.2 L493.1 357.6 L493.8 347.8 L494.6 345.6 L495.3 341.6 L496.1 354.8 L496.8 350.3 L497.6 333.8 L498.3 329.4 L499.1 331.9 L499.8 330.1 L500.6 325.6 L501.3 334.0 L502.1 329.7 L502.8 333.2 L503.6 340.3 L504.3 351.5 L505.1 340.2 L505.8 341.2 L506.6 344.4 L507.3 336.9 L508.1 347.1 L508.8 347.0 L509.6 344.2 L510.3 339.8 L511.1 349.9 L511.8 350.8 L512.5 348.7 L513.3 336.8 L514.0 349.5 L514.8 345.4 L515.5 337.9 L516.3 338.8 L517.0 336.9 L517.8 336.2 L518.5 330.8 L519.3 330.0 L520.0 325.0 L520.8 325.8 L521.5 331.4 L522.3 313.3 L523.0 333.7 L523.8 322.7 L524.5 319.0 L525.3 316.3 L526.0 332.7 L526.8 332.4 L527.5 318.3 L528.3 319.0 L529.0 316.6 L529.8 323.8 L530.5 333.8 L531.3 330.1 L532.0 321.7 L532.8 338.1 L533.5 339.1 L534.3 330.9 L535.0 350.9 L535.8 341.0 L536.5 347.6 L537.3 340.0 L538.0 337.4 L538.8 338.9 L539.5 334.3 L540.3 336.0 L541.0 340.8 L541.8 341.4 L542.5 340.9 L543.3 347.9 L544.0 350.8 L544.8 341.5 L545.5 338.6 L546.3 351.1 L547.0 348.5 L547.8 346.6 L548.5 344.6 L549.3 346.6 L550.0 342.7 L550.8 349.0 L551.5 345.3 L552.3 341.3 L553.0 354.4 L553.8 339.0 L554.5 346.0 L555.3 343.6 L556.0 338.5 L556.8 341.5 L557.5 348.6 L558.3 346.6 L559.0 351.3 L559.8 354.2 L560.5 354.3 L561.3 349.8 L562.0 339.1 L562.8 340.1 L563.5 352.6 L564.3 349.6 L565.0 348.4 L565.8 353.0 L566.5 352.0 L567.3 339.1 L568.0 352.3 L568.8 348.4 L569.5 347.9 L570.3 342.3 L571.0 351.3 L571.8 353.3 L572.5 357.3 L573.3 349.7 L574.0 357.7 L574.8 343.7 L575.5 342.6 L576.3 349.7 L577.0 344.0 L577.8 352.9 L578.5 354.0 L579.3 352.3 L580.0 348.8 L580.8 355.7 L581.5 345.1 L582.3 356.0 L583.0 351.3 L583.8 347.7" fill="none" stroke="#ff1010" stroke-width="0.9" stroke-opacity="0.6" stroke-linejoin="round"/>
<line x1="59.8" y1="8.85" x2="584.9" y2="8.85" stroke="#000" stroke-width="2.6"/>
<line x1="584.9" y1="8.85" x2="584.9" y2="362.2" stroke="#000" stroke-width="2.6"/>
<line x1="59.8" y1="7.55" x2="59.8" y2="363.5" stroke="#564c40" stroke-width="2.6"/>
<line x1="59.8" y1="362.2" x2="586.1999999999999" y2="362.2" stroke="#3a3228" stroke-width="2.8"/>
<line x1="60.3" y1="363.6" x2="60.3" y2="369" stroke="#eadfd0" stroke-width="1.6"/>
<line x1="235.3" y1="363.6" x2="235.3" y2="369" stroke="#eadfd0" stroke-width="1.6"/>
<line x1="410.0" y1="363.6" x2="410.0" y2="369" stroke="#eadfd0" stroke-width="1.6"/>
<line x1="584.4" y1="363.6" x2="584.4" y2="369" stroke="#eadfd0" stroke-width="1.6"/>
<text x="73.60" y="44.80" font-size="42.5" font-weight="bold" textLength="35.50" lengthAdjust="spacingAndGlyphs">a)</text>
<text x="59.80" y="393.00" font-size="19.5" font-weight="bold" text-anchor="middle">20</text>
<text x="234.83" y="393.00" font-size="19.5" font-weight="bold" text-anchor="middle">40</text>
<text x="409.87" y="393.00" font-size="19.5" font-weight="bold" text-anchor="middle">60</text>
<text x="584.90" y="393.00" font-size="19.5" font-weight="bold" text-anchor="middle">80</text>
<text x="239.00" y="424.00" font-size="36" textLength="173.00" lengthAdjust="spacingAndGlyphs">2Θ (degree)</text>
<text x="0" y="0" font-size="35.5" textLength="218.50" lengthAdjust="spacingAndGlyphs" transform="translate(40.00 295.60) rotate(-90)">Intensity (a. u.)</text>
<text x="0" y="0" font-size="17.5" font-weight="bold" textLength="37.80" lengthAdjust="spacingAndGlyphs" transform="translate(149.40 221.30) rotate(-90)">(220)</text>
<text x="0" y="0" font-size="17.5" font-weight="bold" textLength="37.80" lengthAdjust="spacingAndGlyphs" transform="translate(183.50 51.10) rotate(-90)">(311)</text>
<text x="0" y="0" font-size="17.5" font-weight="bold" textLength="37.80" lengthAdjust="spacingAndGlyphs" transform="translate(262.50 249.80) rotate(-90)">(400)</text>
<text x="0" y="0" font-size="17.5" font-weight="bold" textLength="37.80" lengthAdjust="spacingAndGlyphs" transform="translate(351.70 294.70) rotate(-90)">(422)</text>
<text x="0" y="0" font-size="17.5" font-weight="bold" textLength="37.80" lengthAdjust="spacingAndGlyphs" transform="translate(382.70 217.00) rotate(-90)">(511)</text>
<text x="0" y="0" font-size="17.5" font-weight="bold" textLength="37.80" lengthAdjust="spacingAndGlyphs" transform="translate(432.80 176.80) rotate(-90)">(440)</text>
<text x="0" y="0" font-size="17.5" font-weight="bold" textLength="37.80" lengthAdjust="spacingAndGlyphs" transform="translate(503.70 308.00) rotate(-90)">(620)</text>
<text x="0" y="0" font-size="17.5" font-weight="bold" textLength="37.80" lengthAdjust="spacingAndGlyphs" transform="translate(530.70 299.10) rotate(-90)">(533)</text>
<line x1="67.2" y1="713.3" x2="588.9" y2="713.3" stroke="#f4efe5" stroke-width="1.6"/>
<line x1="326.8" y1="475.8" x2="326.8" y2="950.8" stroke="#f4efe5" stroke-width="1.6"/>
<line x1="67.2" y1="710.3" x2="67.2" y2="716.3" stroke="#efe8da" stroke-width="1.4"/>
<line x1="132.4" y1="710.3" x2="132.4" y2="716.3" stroke="#efe8da" stroke-width="1.4"/>
<line x1="197.6" y1="710.3" x2="197.6" y2="716.3" stroke="#efe8da" stroke-width="1.4"/>
<line x1="262.8" y1="710.3" x2="262.8" y2="716.3" stroke="#efe8da" stroke-width="1.4"/>
<line x1="328.1" y1="710.3" x2="328.1" y2="716.3" stroke="#efe8da" stroke-width="1.4"/>
<line x1="393.3" y1="710.3" x2="393.3" y2="716.3" stroke="#efe8da" stroke-width="1.4"/>
<line x1="458.5" y1="710.3" x2="458.5" y2="716.3" stroke="#efe8da" stroke-width="1.4"/>
<line x1="523.7" y1="710.3" x2="523.7" y2="716.3" stroke="#efe8da" stroke-width="1.4"/>
<line x1="588.9" y1="710.3" x2="588.9" y2="716.3" stroke="#efe8da" stroke-width="1.4"/>
<line x1="323" y1="950.8" x2="330" y2="950.8" stroke="#efe8da" stroke-width="1.4"/>
<line x1="323" y1="891.4" x2="330" y2="891.4" stroke="#efe8da" stroke-width="1.4"/>
<line x1="323" y1="832.0" x2="330" y2="832.0" stroke="#efe8da" stroke-width="1.4"/>
<line x1="323" y1="772.7" x2="330" y2="772.7" stroke="#efe8da" stroke-width="1.4"/>
<line x1="323" y1="713.3" x2="330" y2="713.3" stroke="#efe8da" stroke-width="1.4"/>
<line x1="323" y1="653.9" x2="330" y2="653.9" stroke="#efe8da" stroke-width="1.4"/>
<line x1="323" y1="594.5" x2="330" y2="594.5" stroke="#efe8da" stroke-width="1.4"/>
<line x1="323" y1="535.2" x2="330" y2="535.2" stroke="#efe8da" stroke-width="1.4"/>
<line x1="323" y1="475.8" x2="330" y2="475.8" stroke="#efe8da" stroke-width="1.4"/>
<rect x="67.2" y="475.8" width="521.7" height="475.0" fill="none" stroke="#050505" stroke-width="2.8"/>
<line x1="321.3" y1="475.8" x2="335.6" y2="475.8" stroke="#adaba6" stroke-width="2.8"/>
<line x1="321.3" y1="950.8" x2="335.6" y2="950.8" stroke="#adaba6" stroke-width="2.8"/>
<line x1="67.2" y1="706.3" x2="67.2" y2="720.2" stroke="#a8a59e" stroke-width="2.8"/>
<line x1="588.9" y1="706.3" x2="588.9" y2="720.2" stroke="#a8a59e" stroke-width="2.8"/>
<path d="M132.41 901.34 L134.56 901.18 L136.70 901.01 L138.85 900.85 L141.00 900.68 L143.14 900.52 L145.29 900.35 L147.44 900.18 L149.58 900.01 L151.73 899.84 L153.87 899.67 L156.02 899.50 L158.17 899.32 L160.31 899.15 L162.46 898.97 L164.61 898.79 L166.75 898.61 L168.90 898.43 L171.04 898.25 L173.19 898.07 L175.34 897.88 L177.48 897.70 L179.63 897.51 L181.78 897.32 L183.92 897.12 L186.07 896.93 L188.21 896.73 L190.36 896.53 L192.51 896.33 L194.65 896.13 L196.80 895.92 L198.95 895.71 L201.09 895.50 L203.24 895.29 L205.38 895.07 L207.53 894.85 L209.68 894.62 L211.82 894.39 L213.97 894.16 L216.12 893.93 L218.26 893.69 L220.41 893.44 L222.55 893.19 L224.70 892.94 L226.85 892.68 L228.99 892.41 L231.14 892.14 L233.29 891.86 L235.43 891.57 L237.58 891.28 L239.72 890.98 L241.87 890.67 L244.02 890.35 L246.16 890.02 L248.31 889.68 L250.46 889.33 L252.60 888.96 L254.75 888.58 L256.89 888.19 L259.04 887.78 L261.19 887.35 L263.33 886.90 L265.48 886.43 L267.63 885.93 L269.77 885.41 L271.92 884.86 L274.06 884.27 L276.21 883.65 L278.36 882.99 L280.50 882.27 L282.65 881.51 L284.80 880.68 L286.94 879.78 L289.09 878.80 L291.23 877.72 L293.38 876.52 L295.53 875.19 L297.67 873.70 L299.82 872.02 L301.97 870.09 L302.33 869.73 L302.70 869.36 L303.07 868.98 L303.44 868.59 L303.81 868.19 L304.18 867.78 L304.55 867.36 L304.92 866.93 L305.29 866.48 L305.66 866.03 L306.03 865.55 L306.40 865.07 L306.77 864.57 L307.14 864.05 L307.51 863.52 L307.88 862.98 L308.25 862.41 L308.62 861.83 L308.99 861.22 L309.36 860.60 L309.73 859.96 L310.09 859.29 L310.46 858.60 L310.83 857.88 L311.20 857.14 L311.57 856.38 L311.94 855.58 L312.31 854.75 L312.68 853.89 L313.05 853.00 L313.42 852.07 L313.79 851.10 L314.16 850.09 L314.53 849.03 L314.90 847.94 L315.27 846.79 L315.64 845.59 L316.01 844.34 L316.38 843.03 L316.75 841.66 L317.12 840.23 L317.49 838.72 L317.86 837.14 L318.22 835.48 L318.59 833.74 L318.96 831.90 L319.33 829.98 L319.70 827.95 L320.07 825.81 L320.44 823.56 L320.81 821.19 L321.18 818.69 L321.55 816.05 L321.92 813.27 L322.29 810.35 L322.66 807.27 L323.03 804.02 L323.40 800.62 L323.77 797.04 L324.14 793.29 L324.24 792.26 L324.33 791.23 L324.43 790.18 L324.53 789.13 L324.63 788.05 L324.72 786.97 L324.82 785.88 L324.92 784.77 L325.02 783.65 L325.12 782.52 L325.21 781.37 L325.31 780.22 L325.41 779.05 L325.51 777.86 L325.60 776.66 L325.70 775.45 L325.80 774.22 L325.90 772.98 L326.00 771.71 L326.09 770.42 L326.19 769.10 L326.29 767.75 L326.39 766.36 L326.48 764.92 L326.58 763.42 L326.68 761.84 L326.78 760.16 L326.88 758.36 L326.97 756.40 L327.07 754.24 L327.17 751.85 L327.27 749.16 L327.37 746.13 L327.46 742.69 L327.56 738.82 L327.66 734.47 L327.76 729.67 L327.85 724.47 L327.95 718.97 L328.05 713.30 L328.15 707.56 L328.25 701.99 L328.34 696.73 L328.44 691.87 L328.54 687.47 L328.64 683.55 L328.73 680.07 L328.83 677.00 L328.93 674.28 L329.03 671.86 L329.13 669.68 L329.22 667.70 L329.32 665.87 L329.42 664.18 L329.52 662.58 L329.62 661.06 L329.71 659.60 L329.81 658.19 L329.91 656.82 L330.01 655.49 L330.10 654.18 L330.20 652.90 L330.30 651.64 L330.40 650.39 L330.50 649.17 L330.59 647.95 L330.69 646.76 L330.79 645.57 L330.89 644.40 L330.98 643.24 L331.08 642.10 L331.18 640.96 L331.28 639.84 L331.38 638.73 L331.47 637.64 L331.57 636.55 L331.67 635.48 L331.77 634.42 L331.86 633.38 L331.96 632.34 L332.33 628.55 L332.70 624.92 L333.07 621.47 L333.44 618.19 L333.81 615.07 L334.18 612.11 L334.55 609.30 L334.92 606.63 L335.29 604.10 L335.66 601.70 L336.03 599.42 L336.40 597.26 L336.77 595.21 L337.14 593.26 L337.51 591.40 L337.88 589.64 L338.24 587.96 L338.61 586.36 L338.98 584.83 L339.35 583.38 L339.72 581.99 L340.09 580.67 L340.46 579.40 L340.83 578.19 L341.20 577.03 L341.57 575.92 L341.94 574.85 L342.31 573.83 L342.68 572.85 L343.05 571.91 L343.42 571.00 L343.79 570.13 L344.16 569.29 L344.53 568.49 L344.90 567.71 L345.27 566.96 L345.64 566.24 L346.01 565.54 L346.37 564.86 L346.74 564.21 L347.11 563.58 L347.48 562.97 L347.85 562.38 L348.22 561.81 L348.59 561.25 L348.96 560.71 L349.33 560.19 L349.70 559.69 L350.07 559.20 L350.44 558.72 L350.81 558.26 L351.18 557.80 L351.55 557.37 L351.92 556.94 L352.29 556.52 L352.66 556.12 L353.03 555.73 L353.40 555.34 L353.77 554.97 L354.13 554.61 L356.28 552.65 L358.43 550.95 L360.57 549.44 L362.72 548.09 L364.87 546.89 L367.01 545.79 L369.16 544.80 L371.30 543.89 L373.45 543.05 L375.60 542.27 L377.74 541.55 L379.89 540.88 L382.04 540.25 L384.18 539.66 L386.33 539.10 L388.47 538.57 L390.62 538.07 L392.77 537.59 L394.91 537.14 L397.06 536.71 L399.21 536.29 L401.35 535.89 L403.50 535.51 L405.64 535.14 L407.79 534.78 L409.94 534.44 L412.08 534.10 L414.23 533.78 L416.38 533.46 L418.52 533.16 L420.67 532.86 L422.81 532.57 L424.96 532.29 L427.11 532.01 L429.25 531.74 L431.40 531.48 L433.55 531.22 L435.69 530.97 L437.84 530.72 L439.98 530.48 L442.13 530.24 L444.28 530.01 L446.42 529.77 L448.57 529.55 L450.72 529.32 L452.86 529.10 L455.01 528.89 L457.15 528.67 L459.30 528.46 L461.45 528.25 L463.59 528.05 L465.74 527.84 L467.89 527.64 L470.03 527.44 L472.18 527.24 L474.32 527.05 L476.47 526.86 L478.62 526.66 L480.76 526.48 L482.91 526.29 L485.06 526.10 L487.20 525.92 L489.35 525.73 L491.49 525.55 L493.64 525.37 L495.79 525.19 L497.93 525.02 L500.08 524.84 L502.23 524.67 L504.37 524.49 L506.52 524.32 L508.66 524.15 L510.81 523.98 L512.96 523.81 L515.10 523.64 L517.25 523.47 L519.40 523.31 L521.54 523.14 L523.69 522.97" fill="none" stroke="#ff1414" stroke-width="2.6" stroke-linecap="round" stroke-linejoin="round"/>
<text x="71.20" y="747.00" font-size="22" font-weight="bold" text-anchor="middle">20</text>
<text x="133.00" y="747.00" font-size="22" font-weight="bold" text-anchor="middle">-15</text>
<text x="198.20" y="747.00" font-size="22" font-weight="bold" text-anchor="middle">-10</text>
<text x="263.50" y="747.00" font-size="22" font-weight="bold" text-anchor="middle">-5</text>
<text x="327.80" y="747.00" font-size="22" font-weight="bold" text-anchor="middle">0</text>
<text x="394.00" y="747.00" font-size="22" font-weight="bold" text-anchor="middle">5</text>
<text x="460.00" y="747.00" font-size="22" font-weight="bold" text-anchor="middle">10</text>
<text x="525.00" y="747.00" font-size="22" font-weight="bold" text-anchor="middle">15</text>
<text x="588.50" y="747.00" font-size="22" font-weight="bold" text-anchor="middle">20</text>
<text x="308.50" y="482.60" font-size="22" font-weight="bold" text-anchor="end">40</text>
<text x="308.50" y="541.97" font-size="22" font-weight="bold" text-anchor="end">30</text>
<text x="308.50" y="601.35" font-size="22" font-weight="bold" text-anchor="end">20</text>
<text x="308.50" y="660.72" font-size="22" font-weight="bold" text-anchor="end">10</text>
<text x="308.50" y="720.10" font-size="22" font-weight="bold" text-anchor="end">0</text>
<text x="308.50" y="779.47" font-size="22" font-weight="bold" text-anchor="end">-10</text>
<text x="308.50" y="838.85" font-size="22" font-weight="bold" text-anchor="end">-20</text>
<text x="308.50" y="898.22" font-size="22" font-weight="bold" text-anchor="end">-30</text>
<text x="308.50" y="957.60" font-size="22" font-weight="bold" text-anchor="end">-40</text>
<text x="88.00" y="517.30" font-size="41" font-weight="bold" textLength="36.00" lengthAdjust="spacingAndGlyphs">b)</text>
<text x="193.00" y="990.50" font-size="35.5" textLength="278.00" lengthAdjust="spacingAndGlyphs">Applied field (kOe)</text>
<text x="0" y="0" font-size="35.0" textLength="323.00" lengthAdjust="spacingAndGlyphs" transform="translate(47.30 862.00) rotate(-90)">Magnetization (emu/g)</text>
<rect x="388.2" y="789.3" width="129.4" height="125.9" fill="#fff" stroke="none"/>
<line x1="388.2" y1="852.25" x2="517.6" y2="852.25" stroke="#f1ece0" stroke-width="1.2"/>
<line x1="452.9" y1="789.3" x2="452.9" y2="915.2" stroke="#f1ece0" stroke-width="1.2"/>
<path d="M388.20 880.41 L390.39 879.34 L392.59 878.27 L394.78 877.20 L396.97 876.11 L399.17 875.01 L401.36 873.89 L403.55 872.77 L405.75 871.63 L407.94 870.47 L410.13 869.29 L412.33 868.10 L414.52 866.88 L416.71 865.64 L418.91 864.38 L421.10 863.09 L423.29 861.78 L425.48 860.45 L427.68 859.08 L429.87 857.69 L432.06 856.28 L434.26 854.84 L436.45 853.39 L438.64 851.91 L440.84 850.41 L443.03 848.91 L445.22 847.39 L447.42 845.87 L449.61 844.34 L451.80 842.82 L454.00 841.31 L456.19 839.80 L458.38 838.32 L460.58 836.85 L462.77 835.40 L464.96 833.97 L467.16 832.57 L469.35 831.19 L471.54 829.84 L473.74 828.51 L475.93 827.21 L478.12 825.94 L480.32 824.68 L482.51 823.45 L484.70 822.25 L486.89 821.06 L489.09 819.89 L491.28 818.74 L493.47 817.61 L495.67 816.48 L497.86 815.38 L500.05 814.28 L502.25 813.20 L504.44 812.12 L506.63 811.06 L508.83 810.00 L511.02 808.95 L513.21 807.90 L515.41 806.86 L517.60 805.83" fill="none" stroke="#ff1414" stroke-width="2.4"/>
<path d="M388.20 893.78 L390.39 892.66 L392.59 891.55 L394.78 890.44 L396.97 889.32 L399.17 888.21 L401.36 887.09 L403.55 885.98 L405.75 884.86 L407.94 883.74 L410.13 882.62 L412.33 881.49 L414.52 880.36 L416.71 879.23 L418.91 878.09 L421.10 876.95 L423.29 875.80 L425.48 874.64 L427.68 873.47 L429.87 872.29 L432.06 871.09 L434.26 869.88 L436.45 868.66 L438.64 867.41 L440.84 866.13 L443.03 864.83 L445.22 863.50 L447.42 862.14 L449.61 860.75 L451.80 859.32 L454.00 857.86 L456.19 856.37 L458.38 854.86 L460.58 853.32 L462.77 851.78 L464.96 850.23 L467.16 848.68 L469.35 847.15 L471.54 845.63 L473.74 844.14 L475.93 842.68 L478.12 841.25 L480.32 839.86 L482.51 838.50 L484.70 837.16 L486.89 835.86 L489.09 834.59 L491.28 833.34 L493.47 832.11 L495.67 830.90 L497.86 829.70 L500.05 828.52 L502.25 827.35 L504.44 826.20 L506.63 825.05 L508.83 823.90 L511.02 822.76 L513.21 821.63 L515.41 820.50 L517.60 819.38" fill="none" stroke="#ff1414" stroke-width="2.4"/>
<rect x="388.2" y="789.3" width="129.4" height="125.9" fill="none" stroke="#050505" stroke-width="3.0"/>
<text x="433.80" y="794.60" font-size="14.5" text-anchor="middle" fill="#2a2a2a">10</text>
<text x="437.20" y="826.00" font-size="14.5" text-anchor="middle" fill="#2a2a2a">5</text>
<text x="437.30" y="857.30" font-size="14.5" text-anchor="middle" fill="#2a2a2a">0</text>
<text x="435.00" y="888.60" font-size="14.5" text-anchor="middle" fill="#2a2a2a">-5</text>
<text x="433.80" y="919.60" font-size="14.5" text-anchor="middle" fill="#2a2a2a">10</text>
<text x="389.00" y="872.10" font-size="14.5" text-anchor="middle" textLength="23.50" lengthAdjust="spacingAndGlyphs" fill="#2a2a2a">-100</text>
<text x="452.50" y="872.50" font-size="14.5" text-anchor="middle" fill="#2a2a2a">0</text>
<text x="517.20" y="872.10" font-size="14.5" text-anchor="middle" textLength="18.70" lengthAdjust="spacingAndGlyphs" fill="#2a2a2a">100</text>
<defs><linearGradient id="gg" gradientUnits="userSpaceOnUse" x1="372" y1="0" x2="400" y2="0"><stop offset="0" stop-color="#3dc865"/><stop offset="1" stop-color="#18d243"/></linearGradient></defs>
<path d="M59.9 1095.7 C61.8 1095.8 68.6 1095.5 71.3 1096.3 C74.0 1097.1 74.8 1097.6 76.2 1100.3 C77.6 1103.0 78.4 1108.2 79.5 1112.7 C80.6 1117.2 81.4 1123.9 82.8 1127.4 C84.2 1130.9 86.1 1131.5 87.7 1133.9 C89.3 1136.4 91.1 1139.6 92.6 1142.1 C94.1 1144.5 95.4 1148.0 96.8 1148.6 C98.2 1149.1 99.6 1146.2 100.8 1145.4 C102.0 1144.6 102.6 1143.4 104.0 1143.7 C105.4 1144.0 107.1 1146.5 109.0 1147.0 C110.9 1147.5 113.9 1146.6 115.5 1147.0 C117.1 1147.4 117.1 1149.7 118.7 1149.3 C120.3 1148.9 123.4 1145.3 125.3 1144.7 C127.2 1144.1 128.8 1145.1 130.2 1145.4 C131.5 1145.7 131.8 1146.8 133.4 1146.3 C135.0 1145.8 137.3 1143.5 140.0 1142.7 C142.7 1141.9 147.1 1141.5 149.8 1141.4 C152.5 1141.3 153.6 1141.6 156.3 1142.0 C159.0 1142.4 162.3 1144.1 166.1 1143.7 C169.9 1143.3 174.8 1140.2 179.2 1139.8 C183.6 1139.4 188.5 1141.7 192.3 1141.4 C196.1 1141.1 198.7 1138.7 202.0 1138.2 C205.3 1137.7 208.6 1138.6 211.9 1138.2 C215.2 1137.8 218.2 1136.8 221.7 1135.6 C225.2 1134.4 229.6 1131.8 233.1 1131.3 C236.6 1130.8 240.1 1132.3 242.9 1132.3 C245.7 1132.2 246.8 1131.8 250.0 1131.0 C253.2 1130.2 258.2 1129.3 262.3 1127.8 C266.4 1126.3 270.4 1124.1 274.5 1122.2 C278.6 1120.3 282.7 1118.1 286.8 1116.3 C290.9 1114.5 295.3 1113.0 299.0 1111.4 C302.7 1109.8 305.5 1108.1 308.8 1106.5 C312.1 1104.9 314.9 1103.1 318.6 1101.6 C322.3 1100.1 327.2 1098.5 330.9 1097.6 C334.6 1096.7 337.8 1096.1 340.7 1096.2 C343.6 1096.3 345.6 1097.5 348.0 1098.4 C350.4 1099.3 352.5 1101.0 355.4 1101.6 C358.3 1102.2 362.5 1101.5 365.2 1102.0 C367.9 1102.5 369.5 1102.8 371.3 1104.5 C373.1 1106.2 375.0 1108.6 376.2 1111.9 C377.4 1115.2 377.9 1119.2 378.7 1124.1 C379.5 1129.0 380.3 1136.6 381.1 1141.3 C381.9 1146.0 382.6 1150.0 383.6 1152.3 C384.6 1154.5 385.9 1155.0 387.3 1154.8 C388.7 1154.6 390.9 1152.2 392.2 1151.1 C393.5 1150.0 394.3 1149.3 395.3 1148.4 C396.3 1147.5 397.0 1145.1 398.0 1145.7 C399.0 1146.3 400.1 1153.5 401.2 1152.0 C402.2 1150.5 403.2 1139.9 404.3 1136.7 C405.4 1133.5 406.5 1134.8 407.9 1133.1 C409.2 1131.4 411.1 1127.1 412.4 1126.8 C413.7 1126.5 414.6 1127.2 415.9 1131.3 C417.1 1135.3 418.7 1149.9 419.9 1151.1 C421.1 1152.3 421.9 1141.7 423.1 1138.5 C424.3 1135.3 425.8 1131.3 427.1 1132.2 C428.5 1133.1 429.5 1144.5 431.2 1143.9 C432.9 1143.3 435.3 1128.8 437.2 1128.6 C439.1 1128.4 440.9 1143.0 442.5 1143.0 C444.1 1143.0 445.2 1130.2 446.5 1128.6 C447.8 1126.9 448.9 1134.7 450.1 1133.1 C451.4 1131.5 452.5 1119.2 454.0 1118.8 C455.5 1118.3 457.6 1132.1 459.1 1130.4 C460.6 1128.8 461.9 1107.1 463.0 1108.9 C464.1 1110.7 464.9 1139.7 465.9 1141.2 C466.9 1142.7 467.9 1122.8 469.0 1117.9 C470.1 1113.0 471.6 1110.4 472.6 1111.6 C473.6 1112.8 473.9 1124.4 474.9 1125.0 C475.9 1125.6 477.6 1116.1 478.5 1115.2 C479.4 1114.3 479.1 1122.2 480.0 1119.5 C480.9 1116.8 482.7 1099.8 484.1 1098.8 C485.5 1097.8 487.3 1113.5 488.5 1113.8 C489.7 1114.1 490.2 1102.7 491.3 1100.7 C492.4 1098.7 493.9 1101.9 495.0 1101.6 C496.1 1101.3 497.0 1096.8 497.9 1098.8 C498.8 1100.8 499.6 1112.9 500.3 1113.8 C501.0 1114.7 501.4 1104.6 502.2 1104.4 C503.0 1104.2 504.2 1109.3 505.4 1112.9 C506.5 1116.5 507.7 1126.0 509.1 1126.0 C510.5 1126.0 512.2 1116.2 513.8 1112.9 C515.4 1109.6 517.4 1103.3 518.5 1106.3 C519.6 1109.3 519.4 1129.5 520.4 1130.8 C521.4 1132.0 522.9 1119.6 524.2 1113.8 C525.6 1108.0 527.4 1098.2 528.5 1096.0 C529.6 1093.8 530.1 1095.9 530.8 1100.7 C531.5 1105.5 531.7 1124.6 532.6 1125.1 C533.5 1125.6 535.1 1106.5 536.4 1103.5 C537.7 1100.5 539.0 1105.0 540.2 1107.3 C541.5 1109.6 542.4 1117.4 543.9 1117.6 C545.4 1117.8 547.9 1109.1 549.5 1108.2 C551.1 1107.3 551.7 1108.5 553.3 1112.0 C554.9 1115.5 557.0 1128.6 558.9 1128.9 C560.8 1129.2 562.4 1115.5 564.6 1113.8 C566.8 1112.1 569.9 1119.1 572.1 1118.5 C574.3 1117.9 576.0 1109.0 577.7 1110.1 C579.4 1111.2 581.0 1125.7 582.4 1125.1 C583.8 1124.5 585.1 1110.8 586.2 1106.3 C587.3 1101.8 588.5 1099.3 589.0 1097.9" fill="none" stroke="url(#gg)" stroke-width="2.4" stroke-linejoin="round"/>
<path d="M59.5 1221.2 C60.9 1221.4 64.8 1222.2 68.1 1222.2 C71.4 1222.2 76.5 1220.8 79.5 1221.2 C82.5 1221.6 84.1 1222.6 86.0 1224.5 C87.9 1226.4 89.1 1229.2 91.0 1232.7 C92.9 1236.2 95.3 1241.5 97.5 1245.8 C99.7 1250.1 101.8 1255.1 104.0 1258.8 C106.2 1262.5 108.4 1265.7 110.6 1268.0 C112.8 1270.3 114.9 1272.1 117.1 1272.5 C119.3 1272.9 121.4 1271.8 123.6 1270.3 C125.8 1268.8 128.0 1265.7 130.2 1263.7 C132.4 1261.7 134.2 1259.8 136.7 1258.2 C139.1 1256.6 142.2 1255.7 144.9 1253.9 C147.6 1252.1 150.0 1249.9 153.0 1247.4 C156.0 1245.0 159.5 1241.7 162.8 1239.2 C166.1 1236.8 169.3 1234.8 172.6 1232.7 C175.9 1230.6 179.8 1228.2 182.5 1226.8 C185.2 1225.4 187.4 1224.5 189.0 1224.5 C190.6 1224.5 191.1 1225.6 192.3 1226.8 C193.5 1228.0 194.8 1231.5 196.2 1231.7 C197.5 1231.9 198.3 1228.8 200.4 1227.8 C202.5 1226.8 205.6 1226.5 208.6 1225.5 C211.6 1224.5 214.6 1222.8 218.4 1221.9 C222.2 1221.1 227.1 1220.7 231.5 1220.4 C235.9 1220.2 240.2 1220.4 245.0 1220.4 C249.8 1220.4 250.8 1220.5 260.0 1220.5 C269.2 1220.5 286.7 1220.6 300.0 1220.6 C313.3 1220.6 329.2 1220.7 340.0 1220.7 C350.8 1220.7 358.7 1220.8 365.0 1220.8 C371.3 1220.8 374.9 1220.7 378.0 1220.8 C381.1 1220.9 381.9 1220.5 383.7 1221.2 C385.5 1221.9 387.1 1222.0 388.6 1224.7 C390.1 1227.4 391.2 1233.1 392.5 1237.5 C393.8 1241.9 395.2 1248.3 396.5 1251.2 C397.8 1254.1 399.1 1255.3 400.4 1255.1 C401.7 1254.9 403.0 1253.1 404.3 1250.2 C405.6 1247.3 406.9 1240.9 408.2 1237.5 C409.5 1234.1 410.9 1231.1 412.2 1229.6 C413.5 1228.1 414.6 1228.7 416.1 1228.6 C417.6 1228.5 419.4 1227.7 421.0 1229.2 C422.6 1230.7 424.3 1235.0 425.9 1237.5 C427.5 1240.0 429.2 1242.0 430.8 1244.3 C432.4 1246.6 434.3 1251.4 435.7 1251.2 C437.1 1251.0 437.7 1243.8 439.0 1243.3 C440.3 1242.8 442.1 1248.8 443.5 1248.2 C444.9 1247.6 446.4 1241.2 447.5 1239.4 C448.6 1237.6 449.3 1237.5 450.4 1237.5 C451.5 1237.5 452.7 1240.2 454.3 1239.4 C455.9 1238.6 458.2 1235.3 460.2 1232.5 C462.2 1229.7 464.8 1223.8 466.1 1222.7 C467.4 1221.6 467.2 1221.9 468.0 1225.7 C468.8 1229.5 470.2 1240.2 471.0 1245.3 C471.8 1250.4 472.1 1254.9 472.9 1256.1 C473.7 1257.2 474.8 1252.5 475.9 1252.2 C477.0 1251.9 478.5 1253.4 479.8 1254.1 C481.1 1254.8 482.5 1253.4 483.8 1256.1 C485.1 1258.8 486.2 1266.0 487.5 1270.2 C488.8 1274.4 490.2 1278.9 491.3 1281.4 C492.4 1283.9 493.2 1286.5 494.1 1285.2 C495.0 1284.0 496.0 1279.2 496.9 1273.9 C497.8 1268.6 498.6 1258.8 499.7 1253.2 C500.8 1247.6 502.1 1242.8 503.5 1240.1 C504.9 1237.4 506.8 1238.4 508.2 1237.3 C509.6 1236.2 510.8 1234.9 512.0 1233.5 C513.2 1232.1 514.5 1229.7 515.7 1228.8 C517.0 1227.9 518.1 1228.8 519.5 1227.9 C520.9 1227.0 522.8 1224.5 524.2 1223.2 C525.6 1221.9 526.5 1220.2 527.9 1220.3 C529.3 1220.4 531.2 1222.4 532.6 1224.1 C534.0 1225.8 535.1 1226.9 536.4 1230.7 C537.7 1234.5 539.0 1243.1 540.2 1246.7 C541.5 1250.3 542.5 1250.4 543.9 1252.3 C545.3 1254.2 547.0 1255.1 548.6 1257.9 C550.2 1260.7 551.6 1266.7 553.3 1269.2 C555.0 1271.7 557.2 1273.2 558.9 1273.0 C560.6 1272.8 562.0 1271.6 563.6 1268.3 C565.2 1265.0 566.7 1258.7 568.3 1253.2 C569.9 1247.7 571.6 1239.2 573.0 1235.4 C574.4 1231.7 575.2 1230.6 576.8 1230.7 C578.4 1230.8 580.4 1236.2 582.4 1236.3 C584.4 1236.4 587.5 1232.4 588.5 1231.6" fill="none" stroke="#e02424" stroke-width="2.4" stroke-linejoin="round"/>
<path d="M59.5 1357.0 C62.0 1357.0 71.3 1356.8 74.6 1357.3 C77.9 1357.8 77.6 1358.0 79.5 1360.3 C81.4 1362.6 83.5 1366.5 86.0 1371.0 C88.5 1375.5 91.5 1382.2 94.2 1387.4 C96.9 1392.6 99.7 1398.1 102.4 1402.1 C105.1 1406.1 108.1 1409.1 110.6 1411.2 C113.0 1413.3 114.9 1414.3 117.1 1414.5 C119.3 1414.7 121.4 1413.8 123.6 1412.5 C125.8 1411.2 128.0 1408.8 130.2 1407.0 C132.4 1405.2 134.0 1403.0 136.7 1401.4 C139.4 1399.8 142.7 1399.0 146.5 1397.2 C150.3 1395.4 155.2 1392.9 159.6 1390.7 C163.9 1388.5 168.5 1386.3 172.6 1384.1 C176.7 1381.9 181.4 1378.4 184.1 1377.6 C186.8 1376.8 187.1 1378.0 189.0 1379.2 C190.9 1380.5 193.6 1385.1 195.5 1385.1 C197.4 1385.1 198.7 1380.6 200.4 1379.2 C202.2 1377.8 204.1 1378.3 206.0 1376.9 C207.9 1375.5 209.3 1372.5 211.9 1371.0 C214.5 1369.5 217.3 1368.7 221.7 1367.8 C226.0 1366.9 233.3 1366.1 238.0 1365.5 C242.7 1364.9 244.7 1364.8 250.0 1364.0 C255.3 1363.2 263.1 1361.6 269.6 1360.8 C276.1 1360.0 282.2 1359.5 289.2 1359.1 C296.1 1358.7 303.5 1358.6 311.3 1358.4 C319.1 1358.2 328.9 1358.2 335.8 1357.9 C342.7 1357.6 348.2 1357.0 352.9 1356.7 C357.6 1356.4 361.1 1355.8 364.0 1355.9 C366.9 1356.1 368.3 1356.6 370.1 1357.6 C371.9 1358.6 373.6 1360.1 375.0 1362.1 C376.4 1364.1 377.5 1365.9 378.7 1369.4 C379.9 1372.9 381.1 1379.4 382.4 1382.9 C383.7 1386.4 385.1 1389.2 386.3 1390.3 C387.6 1391.4 388.8 1389.1 389.9 1389.4 C390.9 1389.7 391.6 1390.6 392.6 1392.1 C393.7 1393.6 395.1 1396.9 396.2 1398.4 C397.3 1399.9 398.2 1401.5 399.4 1401.1 C400.6 1400.6 402.0 1398.2 403.4 1395.7 C404.8 1393.2 406.4 1388.5 407.9 1385.8 C409.4 1383.1 410.6 1381.0 412.4 1379.5 C414.2 1378.0 417.0 1376.8 418.6 1376.8 C420.2 1376.8 421.0 1378.3 422.2 1379.5 C423.4 1380.7 424.4 1382.7 425.8 1384.0 C427.2 1385.3 428.8 1386.0 430.3 1387.1 C431.8 1388.1 433.5 1390.4 434.8 1390.3 C436.1 1390.2 437.0 1387.8 438.4 1386.7 C439.8 1385.6 441.4 1383.5 442.9 1383.5 C444.4 1383.5 445.9 1385.9 447.4 1386.4 C448.9 1386.9 450.2 1387.0 451.9 1386.7 C453.5 1386.5 455.4 1385.5 457.3 1384.9 C459.2 1384.3 461.8 1383.2 463.6 1383.1 C465.4 1382.9 466.6 1383.1 468.1 1384.0 C469.6 1384.9 471.1 1387.0 472.6 1388.5 C474.1 1390.0 475.8 1392.7 477.1 1393.0 C478.4 1393.3 479.1 1391.2 480.6 1390.3 C482.1 1389.4 484.2 1388.5 486.0 1387.6 C487.8 1386.7 489.5 1386.8 491.3 1385.1 C493.1 1383.4 495.0 1379.8 496.9 1377.6 C498.8 1375.4 500.6 1374.0 502.6 1372.0 C504.6 1370.0 507.1 1367.0 509.1 1365.4 C511.1 1363.8 512.8 1363.6 514.8 1362.6 C516.8 1361.6 519.0 1359.9 521.4 1359.4 C523.8 1358.9 526.7 1359.0 528.9 1359.4 C531.1 1359.8 532.8 1359.8 534.5 1361.6 C536.2 1363.4 537.6 1366.8 539.2 1370.1 C540.8 1373.4 542.2 1378.0 543.9 1381.4 C545.6 1384.9 547.9 1387.7 549.5 1390.8 C551.1 1393.9 552.0 1397.7 553.3 1400.2 C554.6 1402.7 555.9 1404.7 557.1 1405.8 C558.4 1406.9 559.5 1407.6 560.8 1406.7 C562.0 1405.8 563.4 1404.4 564.6 1400.2 C565.9 1396.0 567.0 1387.4 568.3 1381.4 C569.5 1375.4 570.7 1368.3 572.1 1364.4 C573.5 1360.5 575.4 1358.8 576.8 1357.9 C578.2 1357.0 579.6 1358.0 580.6 1358.8 C581.6 1359.6 582.1 1362.6 583.0 1362.6 C583.9 1362.6 585.2 1360.1 586.2 1358.8 C587.2 1357.5 588.5 1355.6 589.0 1355.0" fill="none" stroke="#2f7fa0" stroke-width="2.4" stroke-linejoin="round"/>
<line x1="58.6" y1="1030.5" x2="590.0" y2="1030.5" stroke="#3a3025" stroke-width="2.8"/>
<line x1="58.6" y1="1029.1" x2="58.6" y2="1484.3000000000002" stroke="#251e14" stroke-width="2.8"/>
<line x1="590.0" y1="1029.1" x2="590.0" y2="1484.3000000000002" stroke="#0d0b09" stroke-width="2.8"/>
<line x1="58.6" y1="1482.9" x2="590.0" y2="1482.9" stroke="#0a0a0a" stroke-width="2.8"/>
<text x="74.50" y="1065.80" font-size="41" font-weight="bold" textLength="30.00" lengthAdjust="spacingAndGlyphs">c)</text>
<text x="90.00" y="1512.80" font-size="21.5" font-weight="bold" text-anchor="middle">3600</text>
<text x="215.00" y="1512.80" font-size="21.5" font-weight="bold" text-anchor="middle">2800</text>
<text x="341.00" y="1512.80" font-size="21.5" font-weight="bold" text-anchor="middle">2000</text>
<text x="465.70" y="1512.80" font-size="21.5" font-weight="bold" text-anchor="middle">1200</text>
<text x="590.00" y="1512.80" font-size="21.5" font-weight="bold" text-anchor="middle">400</text>
<text x="186.50" y="1555.30" font-size="35.5" textLength="284.00" lengthAdjust="spacingAndGlyphs">Wavenumber (1/cm)</text>
<text x="0" y="0" font-size="36" textLength="272.50" lengthAdjust="spacingAndGlyphs" transform="translate(42.70 1391.60) rotate(-90)">Transmittance (%)</text>
<text x="535.50" y="1080.30" font-size="33" textLength="36.00" lengthAdjust="spacingAndGlyphs">(I)</text>
<text x="530.00" y="1210.20" font-size="33" textLength="46.50" lengthAdjust="spacingAndGlyphs">(II)</text>
<text x="520.50" y="1340.60" font-size="33" textLength="60.00" lengthAdjust="spacingAndGlyphs">(III)</text>
</svg>
</body></html>
